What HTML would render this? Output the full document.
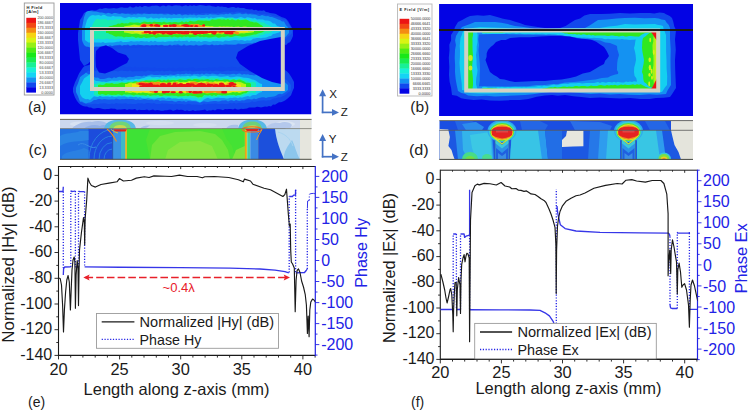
<!DOCTYPE html>
<html><head><meta charset="utf-8"><style>html,body{margin:0;padding:0;background:#fff;} svg{display:block;} text{font-family:"Liberation Sans",sans-serif;}</style></head>
<body>
<svg width="749" height="412" viewBox="0 0 749 412" font-family="Liberation Sans, sans-serif">
<rect width="749" height="412" fill="#ffffff"/>
<rect x="24.3" y="3" width="29.7" height="92" fill="#fdfdfd" stroke="#989898" stroke-width="0.9"/>
<rect x="26.3" y="17.8" width="9.7" height="5.3" fill="#ec1414"/>
<rect x="26.3" y="22.8" width="9.7" height="5.3" fill="#f24814"/>
<rect x="26.3" y="27.7" width="9.7" height="5.3" fill="#f48c14"/>
<rect x="26.3" y="32.7" width="9.7" height="5.3" fill="#f6d414"/>
<rect x="26.3" y="37.7" width="9.7" height="5.3" fill="#d8f414"/>
<rect x="26.3" y="42.6" width="9.7" height="5.3" fill="#96f014"/>
<rect x="26.3" y="47.6" width="9.7" height="5.3" fill="#50ec14"/>
<rect x="26.3" y="52.6" width="9.7" height="5.3" fill="#18e818"/>
<rect x="26.3" y="57.5" width="9.7" height="5.3" fill="#18ec50"/>
<rect x="26.3" y="62.5" width="9.7" height="5.3" fill="#18f096"/>
<rect x="26.3" y="67.5" width="9.7" height="5.3" fill="#18f0d8"/>
<rect x="26.3" y="72.4" width="9.7" height="5.3" fill="#14d4f4"/>
<rect x="26.3" y="77.4" width="9.7" height="5.3" fill="#1492f2"/>
<rect x="26.3" y="82.4" width="9.7" height="5.3" fill="#1048ee"/>
<rect x="26.3" y="87.3" width="9.7" height="5.3" fill="#0404e4"/>
<text x="26.5" y="9" font-size="4.1" fill="#202020" text-anchor="start" font-weight="bold" letter-spacing="0.35">H Field</text>
<text x="26.5" y="13.4" font-size="4.1" fill="#202020" text-anchor="start" font-weight="bold" letter-spacing="0.35">[A/m]</text>
<text x="53" y="19.2" font-size="3.9" fill="#4a4a4a" text-anchor="end" textLength="15.6" lengthAdjust="spacingAndGlyphs">200.0000</text>
<text x="53" y="24.2" font-size="3.9" fill="#4a4a4a" text-anchor="end" textLength="15.6" lengthAdjust="spacingAndGlyphs">186.6667</text>
<text x="53" y="29.1" font-size="3.9" fill="#4a4a4a" text-anchor="end" textLength="15.6" lengthAdjust="spacingAndGlyphs">173.3333</text>
<text x="53" y="34.1" font-size="3.9" fill="#4a4a4a" text-anchor="end" textLength="15.6" lengthAdjust="spacingAndGlyphs">160.0000</text>
<text x="53" y="39.1" font-size="3.9" fill="#4a4a4a" text-anchor="end" textLength="15.6" lengthAdjust="spacingAndGlyphs">146.6667</text>
<text x="53" y="44" font-size="3.9" fill="#4a4a4a" text-anchor="end" textLength="15.6" lengthAdjust="spacingAndGlyphs">133.3333</text>
<text x="53" y="49" font-size="3.9" fill="#4a4a4a" text-anchor="end" textLength="15.6" lengthAdjust="spacingAndGlyphs">120.0000</text>
<text x="53" y="54" font-size="3.9" fill="#4a4a4a" text-anchor="end" textLength="15.6" lengthAdjust="spacingAndGlyphs">106.6667</text>
<text x="53" y="58.9" font-size="3.9" fill="#4a4a4a" text-anchor="end" textLength="13.7" lengthAdjust="spacingAndGlyphs">93.3333</text>
<text x="53" y="63.9" font-size="3.9" fill="#4a4a4a" text-anchor="end" textLength="13.7" lengthAdjust="spacingAndGlyphs">80.0000</text>
<text x="53" y="68.9" font-size="3.9" fill="#4a4a4a" text-anchor="end" textLength="13.7" lengthAdjust="spacingAndGlyphs">66.6667</text>
<text x="53" y="73.8" font-size="3.9" fill="#4a4a4a" text-anchor="end" textLength="13.7" lengthAdjust="spacingAndGlyphs">53.3333</text>
<text x="53" y="78.8" font-size="3.9" fill="#4a4a4a" text-anchor="end" textLength="13.7" lengthAdjust="spacingAndGlyphs">40.0000</text>
<text x="53" y="83.8" font-size="3.9" fill="#4a4a4a" text-anchor="end" textLength="13.7" lengthAdjust="spacingAndGlyphs">26.6667</text>
<text x="53" y="88.7" font-size="3.9" fill="#4a4a4a" text-anchor="end" textLength="13.7" lengthAdjust="spacingAndGlyphs">13.3333</text>
<text x="53" y="93.7" font-size="3.9" fill="#4a4a4a" text-anchor="end" textLength="11.7" lengthAdjust="spacingAndGlyphs">0.0000</text>
<rect x="397.5" y="4" width="34.5" height="92" fill="#fdfdfd" stroke="#b8b8b8" stroke-width="0.9"/>
<rect x="399.6" y="18.8" width="9.699999999999989" height="5.3" fill="#ec1414"/>
<rect x="399.6" y="23.8" width="9.699999999999989" height="5.3" fill="#f24814"/>
<rect x="399.6" y="28.7" width="9.699999999999989" height="5.3" fill="#f48c14"/>
<rect x="399.6" y="33.7" width="9.699999999999989" height="5.3" fill="#f6d414"/>
<rect x="399.6" y="38.7" width="9.699999999999989" height="5.3" fill="#d8f414"/>
<rect x="399.6" y="43.7" width="9.699999999999989" height="5.3" fill="#96f014"/>
<rect x="399.6" y="48.6" width="9.699999999999989" height="5.3" fill="#50ec14"/>
<rect x="399.6" y="53.6" width="9.699999999999989" height="5.3" fill="#18e818"/>
<rect x="399.6" y="58.6" width="9.699999999999989" height="5.3" fill="#18ec50"/>
<rect x="399.6" y="63.6" width="9.699999999999989" height="5.3" fill="#18f096"/>
<rect x="399.6" y="68.5" width="9.699999999999989" height="5.3" fill="#18f0d8"/>
<rect x="399.6" y="73.5" width="9.699999999999989" height="5.3" fill="#14d4f4"/>
<rect x="399.6" y="78.5" width="9.699999999999989" height="5.3" fill="#1492f2"/>
<rect x="399.6" y="83.5" width="9.699999999999989" height="5.3" fill="#1048ee"/>
<rect x="399.6" y="88.4" width="9.699999999999989" height="5.3" fill="#0404e4"/>
<text x="399.5" y="10.6" font-size="3.8" fill="#202020" text-anchor="start" font-weight="bold" letter-spacing="0.55">E Field [V/m]</text>
<text x="430.4" y="20.2" font-size="3.5999999999999996" fill="#303030" text-anchor="end" textLength="19.6" lengthAdjust="spacingAndGlyphs">50000.0000</text>
<text x="430.4" y="25.2" font-size="3.5999999999999996" fill="#303030" text-anchor="end" textLength="19.6" lengthAdjust="spacingAndGlyphs">46666.6641</text>
<text x="430.4" y="30.1" font-size="3.5999999999999996" fill="#303030" text-anchor="end" textLength="19.6" lengthAdjust="spacingAndGlyphs">43333.3320</text>
<text x="430.4" y="35.1" font-size="3.5999999999999996" fill="#303030" text-anchor="end" textLength="19.6" lengthAdjust="spacingAndGlyphs">40000.0000</text>
<text x="430.4" y="40.1" font-size="3.5999999999999996" fill="#303030" text-anchor="end" textLength="19.6" lengthAdjust="spacingAndGlyphs">36666.6641</text>
<text x="430.4" y="45.1" font-size="3.5999999999999996" fill="#303030" text-anchor="end" textLength="19.6" lengthAdjust="spacingAndGlyphs">33333.3320</text>
<text x="430.4" y="50" font-size="3.5999999999999996" fill="#303030" text-anchor="end" textLength="19.6" lengthAdjust="spacingAndGlyphs">30000.0000</text>
<text x="430.4" y="55" font-size="3.5999999999999996" fill="#303030" text-anchor="end" textLength="19.6" lengthAdjust="spacingAndGlyphs">26666.6660</text>
<text x="430.4" y="60" font-size="3.5999999999999996" fill="#303030" text-anchor="end" textLength="19.6" lengthAdjust="spacingAndGlyphs">23333.3320</text>
<text x="430.4" y="65" font-size="3.5999999999999996" fill="#303030" text-anchor="end" textLength="19.6" lengthAdjust="spacingAndGlyphs">20000.0000</text>
<text x="430.4" y="69.9" font-size="3.5999999999999996" fill="#303030" text-anchor="end" textLength="19.6" lengthAdjust="spacingAndGlyphs">16666.6660</text>
<text x="430.4" y="74.9" font-size="3.5999999999999996" fill="#303030" text-anchor="end" textLength="19.6" lengthAdjust="spacingAndGlyphs">13333.3330</text>
<text x="430.4" y="79.9" font-size="3.5999999999999996" fill="#303030" text-anchor="end" textLength="19.6" lengthAdjust="spacingAndGlyphs">10000.0000</text>
<text x="430.4" y="84.9" font-size="3.5999999999999996" fill="#303030" text-anchor="end" textLength="17.6" lengthAdjust="spacingAndGlyphs">6666.6665</text>
<text x="430.4" y="89.8" font-size="3.5999999999999996" fill="#303030" text-anchor="end" textLength="17.6" lengthAdjust="spacingAndGlyphs">3333.3333</text>
<text x="430.4" y="94.8" font-size="3.5999999999999996" fill="#303030" text-anchor="end" textLength="11.8" lengthAdjust="spacingAndGlyphs">0.0000</text>
<clipPath id="ca"><rect x="60" y="3" width="251.5" height="111.5"/></clipPath>
<g clip-path="url(#ca)">
<rect x="60" y="3" width="251.5" height="111.5" fill="#0303e4"/>
<polygon points="92,29 283,29 283,89 92,89" fill="#124cec" />
<polygon points="78,33 80,19.9 82,17.1 84,13 86,11.9 88,11.8 90,10.4 92,10 94,10.5 96,10.5 98,9.6 100,8.5 102,8.9 104,8.3 106,7.9 108,8.4 110,8.4 112,8.2 114,8 116,8.6 118,8.3 120,7.4 122,7.2 124,7.8 126,7.8 128,7.8 130,6.3 132,7.5 134,7.5 136,6.2 138,7.1 140,6.1 142,7.2 144,6 146,5.9 148,6.8 150,6.4 152,5.8 154,5.7 156,5.6 158,5.7 160,6.7 162,5.7 164,5.5 166,6.4 168,5.3 170,5.5 172,6.2 174,5.5 176,5.2 178,5.4 180,5.6 182,6.4 184,5.8 186,5.2 188,6.2 190,5.3 192,5.9 194,5.2 196,6.1 198,5.4 200,4.9 202,5.3 204,5.4 206,6 208,5.5 210,5.5 212,6.3 214,6.5 216,7.1 218,5.9 220,6.7 222,6.4 224,7.1 226,6.9 228,7.9 230,7.6 232,7 234,7 236,8 238,7.2 240,8 242,8 244,7.9 246,9.1 248,9.3 250,9.6 252,9.2 254,10.2 256,9.8 258,10.7 260,10.6 262,10.8 264,10.3 266,12 268,12.3 270,13 272,13.3 274,13.4 276,14 278,15.3 280,16.3 282,17.2 284,17.7 286,18.7 288,21.1 290,24.6 292,27.9 293,30 293,36 292,38.5 290,42.2 288,43 286,45.2 284,44 282,44.9 280,44 278,43.6 276,44.1 274,44.4 272,44.5 270,44.1 268,43.8 266,44.5 264,44.2 262,44.3 260,44 258,44.4 256,44.8 254,45 252,44.8 250,45.2 248,45 246,45.3 244,44.9 242,45.6 240,45.3 238,45.2 236,45.7 234,45.7 232,44.5 230,45.4 228,45.5 226,45.9 224,44.9 222,45.3 220,44.9 218,45.2 216,45.2 214,45.3 212,46.2 210,45.4 208,46.1 206,45.6 204,46.4 202,46.2 200,46.6 198,45.5 196,46.2 194,46.8 192,46.8 190,45.8 188,46.7 186,45.9 184,46.9 182,46.4 180,46.4 178,46.7 176,46.7 174,46.1 172,46.5 170,46.4 168,47.5 166,47 164,46.8 162,47.5 160,47.4 158,46.7 156,47 154,47.4 152,47.6 150,47.3 148,46.9 146,46.9 144,47.2 142,48 140,47.4 138,47.4 136,48 134,47.7 132,47.9 130,47.6 128,48.6 126,48.1 124,48.3 122,47.9 120,48.3 118,49.1 116,49.6 114,48.8 112,49.4 110,49.5 108,49.9 106,49.5 104,49.4 102,49.3 100,49.3 98,52.6 96,55.5 94,56.6 92,60 90,61.7 88,63.7 86,64.7 84,66.1 82,63 80,60.1 78,40" fill="#1248ec" />
<polygon points="82,28 84,22.5 86,17.1 88,16.7 90,15 92,14.6 94,14.4 96,13.4 98,13.1 100,13.9 102,13.3 104,13.5 106,12.8 108,13.1 110,13.8 112,13.8 114,12.7 116,13.4 118,12.6 120,13.3 122,13.1 124,13.1 126,13.3 128,12.7 130,13.1 132,12.6 134,13.2 136,12.5 138,13.2 140,13.1 142,13.1 144,13.1 146,12.6 148,13.4 150,13.7 152,13 154,13.2 156,13.6 158,13.3 160,13.5 162,12.7 164,13.4 166,12.9 168,13.1 170,13.9 172,13.2 174,13.7 176,13.9 178,13.4 180,13.8 182,13.6 184,13.8 186,13.9 188,13.6 190,13.4 192,13.7 194,13 196,13.5 198,13.5 200,13.9 202,13.1 204,13.3 206,12.8 208,13.1 210,13.3 212,12.5 214,13 216,13.2 218,12.4 220,13 222,12.6 224,12.1 226,12.2 228,12.6 230,12.6 232,12 234,12.8 236,11.7 238,11.5 240,12 242,12.4 244,12.8 246,12.3 248,13.2 250,12.9 252,12.7 254,14 256,14.1 258,13.3 260,14.3 262,14.7 264,13.8 266,14.7 268,14.4 270,14.5 272,15.7 274,16.3 276,16.7 278,17 280,17.6 282,19 284,19.7 286,19.6 288,22.8 290,26.3 292,29 292,33 290,35.3 288,36.6 286,38.8 284,39.1 282,40.6 280,40.8 278,40.5 276,41 274,42.3 272,42.9 270,43.3 268,43 266,43.8 264,43.8 262,44 260,44.1 258,44.4 256,43.5 254,44.6 252,43.8 250,44 248,45.1 246,44.2 244,44.3 242,44.8 240,44.8 238,44.6 236,45.6 234,44.6 232,45.3 230,44.9 228,45.2 226,45.3 224,45.7 222,45.6 220,45.1 218,44.9 216,45.8 214,45.8 212,44.8 210,45.1 208,45.5 206,45.4 204,45.2 202,45.6 200,45.2 198,45.2 196,45.4 194,45.9 192,45.4 190,45.6 188,46 186,45.9 184,45.7 182,45.3 180,46 178,45.4 176,45.9 174,45.2 172,46.1 170,45.3 168,45 166,45.3 164,45.8 162,45.3 160,45.4 158,45.8 156,45 154,45.7 152,45.3 150,45.3 148,45.7 146,45.5 144,45.1 142,45.5 140,45 138,45.6 136,45.8 134,45.1 132,45.4 130,46 128,45.2 126,46.1 124,45.2 122,45.2 120,45.6 118,46.1 116,45.7 114,45.4 112,46.1 110,45.9 108,46 106,46.1 104,45.6 102,45.7 100,45.5 98,46.1 96,45.8 94,46.3 92,46 90,45.9 88,46.7 86,46.7 84,44.4 82,42" fill="#1458ee" />
<polygon points="82,28 84,17.3 86,12.1 88,10.9 90,11 92,11.3 94,11.6 96,11.5 98,12 100,12.4 102,12.5 104,12.9 106,13.7 108,12.7 110,13.3 112,14.1 114,12.9 116,13 118,13.8 120,13.9 122,13.3 124,13.7 126,14 128,13.8 130,14.3 132,14.7 134,13.9 136,14.4 138,13.6 140,14 142,14.6 144,13.5 146,14.1 148,13.9 150,14.1 152,13.8 154,13.9 156,13.7 158,14.2 160,13.8 162,14 164,14.5 166,14.5 168,14.1 170,14.4 172,14.9 174,13.9 176,15 178,14.3 180,14.1 182,15.4 184,14.8 186,14.6 188,15.3 190,14.5 192,14.9 194,14.6 196,15.5 198,14.7 200,14.7 202,14.9 204,15.1 206,14.5 208,15 210,14.1 212,14.4 214,14.4 216,14.5 218,14.9 220,14.6 222,14.3 224,14.5 226,13.8 228,14.3 230,13.2 232,14.4 234,14.3 236,13.7 238,13.4 240,13.3 242,14.3 244,14 246,13.6 248,14.6 250,14.1 252,14.5 254,14.4 256,14.8 258,15.7 260,16.1 262,15 264,15.8 266,16.3 268,15.9 270,17.1 272,17.1 274,17.7 276,18.5 278,19.6 280,20 282,21.4 284,21.6 286,25.3 288,27.2 289,29 289,33 288,34.1 286,36.5 284,37.9 282,39.1 280,39.1 278,40 276,40.9 274,40.8 272,41.1 270,41.3 268,41.9 266,42 264,42 262,42.5 260,42.5 258,43 256,43.2 254,42.5 252,43.5 250,43.2 248,43.3 246,43.6 244,43.9 242,44.1 240,43.7 238,43.5 236,44.5 234,44.7 232,44.6 230,44.5 228,44.4 226,44.2 224,44.5 222,45 220,44.4 218,45.2 216,44.8 214,45.3 212,44.3 210,45.3 208,45.1 206,44.5 204,44.5 202,45.2 200,45.6 198,45.5 196,44.5 194,45.6 192,45.2 190,45 188,45.2 186,45.4 184,44.3 182,45.7 180,45.2 178,44.3 176,44.8 174,44.7 172,45.6 170,44.6 168,45.6 166,45.6 164,45.6 162,44.7 160,44.9 158,45.2 156,44.7 154,45.3 152,45.1 150,45.4 148,44.9 146,45 144,45.5 142,45 140,45 138,44.6 136,45.2 134,44.8 132,45.2 130,45.7 128,44.4 126,45.1 124,45.1 122,45.7 120,44.7 118,44.9 116,45.2 114,45.4 112,46.2 110,45.1 108,46.3 106,45.1 104,45.7 102,46.2 100,46.4 98,46.8 96,46.4 94,47 92,47.1 90,47.4 88,46.8 86,46.5 84,44.9 82,40" fill="#1492f2" />
<polygon points="85,27 87,19.9 89,17 91,15.6 93,15 95,15.4 97,15.2 99,14.9 101,15.9 103,14.8 105,15.1 107,16.3 109,16.5 111,16.8 113,15.8 115,16.4 117,16.6 119,16.5 121,16.5 123,17.5 125,17.9 127,17.4 129,16.8 131,17.4 133,17.1 135,17.2 137,17.8 139,17.1 141,17.3 143,17.3 145,17.1 147,18.6 149,18.2 151,17.2 153,18.4 155,18.2 157,17.9 159,18.7 161,17.6 163,18 165,17.6 167,18.4 169,17.8 171,18.4 173,18.1 175,18.1 177,17.9 179,17.9 181,17.8 183,18.5 185,17.6 187,18.1 189,17.5 191,17.6 193,17.8 195,17.4 197,17.9 199,17.2 201,18 203,18 205,18.1 207,17.1 209,18.4 211,17.3 213,18.2 215,17.8 217,17.2 219,17.1 221,16.8 223,16.9 225,17.7 227,18.1 229,17.6 231,17.4 233,17.6 235,18.3 237,18.3 239,17.5 241,17.1 243,17.7 245,18.5 247,17.2 249,17.4 251,17.9 253,18.5 255,18 257,19.6 259,19.3 261,19.4 263,19.5 265,20.5 267,20.6 269,20.8 271,21.8 273,23.5 275,23.6 277,26 279,26.4 281,28 281,31 279,32.6 277,32.9 275,33.8 273,34 271,36.1 269,36.3 267,37.3 265,37.7 263,37.7 261,38.3 259,38 257,38 255,38.6 253,38.8 251,40.4 249,40.5 247,40.2 245,41 243,40.3 241,39.9 239,40.4 237,40.2 235,40.1 233,40.3 231,40.6 229,41.1 227,40.7 225,40.5 223,41.8 221,41.3 219,41.2 217,41.1 215,41.2 213,41 211,41.7 209,41.7 207,41.3 205,41 203,41.2 201,42 199,41 197,41.7 195,41.1 193,41.3 191,40.8 189,41.9 187,40.4 185,41 183,41.1 181,41.2 179,40.6 177,41.3 175,40.7 173,41.4 171,41.2 169,41.3 167,41.5 165,41.9 163,41.5 161,41.8 159,41.7 157,41.8 155,40.7 153,41.8 151,40.7 149,42 147,41.2 145,41.6 143,41.2 141,41 139,41.4 137,41.3 135,41.4 133,41.5 131,41 129,41.8 127,42 125,41.9 123,42.2 121,41.1 119,41.7 117,41.7 115,42.3 113,42.5 111,42.4 109,42.5 107,42.7 105,42.9 103,42.1 101,42.8 99,42.6 97,42.4 95,42.4 93,42.3 91,42 89,42.7 87,41.6 85,40" fill="#14d0f0" />
<polygon points="92,26 94,21.9 96,19.2 98,18.8 100,19.7 102,19.1 104,19.4 106,19.1 108,20.5 110,19.6 112,20.2 114,20 116,19.3 118,19.2 120,19.1 122,20.5 124,20.4 126,19.8 128,19.8 130,19.6 132,19 134,20.1 136,19.1 138,19.1 140,19.6 142,20.1 144,19.3 146,20 148,19.7 150,19.7 152,19.8 154,19.7 156,19.9 158,19.7 160,20.4 162,19.1 164,20.2 166,19.1 168,20.6 170,19.7 172,20.6 174,19.6 176,20.2 178,19.6 180,19.3 182,20.7 184,19.5 186,19.5 188,18.9 190,19.1 192,20.1 194,19 196,20 198,19.7 200,19.3 202,19.8 204,19.1 206,18.7 208,19.6 210,19.2 212,19.4 214,18.2 216,18.5 218,18.1 220,17.9 222,17.7 224,18.2 226,18 228,17.7 230,17.9 232,17.8 234,18.8 236,18.9 238,19 240,18.8 242,19.5 244,18.7 246,19.2 248,20.5 250,19.3 252,20.9 254,19.8 256,20.5 258,21.4 260,21.7 262,22.5 264,22.4 266,24.1 268,24.9 270,26 272,27 272,32 270,32.7 268,33.8 266,33.2 264,34.5 262,35 260,35.3 258,36.7 256,37.1 254,37.1 252,36.7 250,37.1 248,37.6 246,37.1 244,37.2 242,37.6 240,38.4 238,38.1 236,37.6 234,37.6 232,37.8 230,37.9 228,38.3 226,39 224,38.6 222,38.2 220,38.9 218,38 216,38.4 214,39.4 212,38.9 210,38.4 208,38.8 206,38.6 204,39.3 202,39.2 200,39 198,38.6 196,38.5 194,39 192,38.5 190,38.5 188,38.4 186,38.5 184,39.7 182,39.1 180,38.7 178,38.8 176,39 174,38.6 172,38.7 170,39.2 168,39 166,39.5 164,39.3 162,38.6 160,39.9 158,38.8 156,38.6 154,39.2 152,39.2 150,39.6 148,38.7 146,38.7 144,38.6 142,38.7 140,38.8 138,39.9 136,39.4 134,39.5 132,38.8 130,39.7 128,38.8 126,40 124,39.3 122,39.1 120,38.8 118,38.9 116,39.4 114,39.4 112,38.5 110,39.5 108,38.8 106,38.6 104,39.4 102,39.3 100,39.3 98,38.6 96,39.7 94,37.8 92,36" fill="#18ecb0" />
<polygon points="106,27 108,27 110,26 112,25.7 114,25.1 116,24.7 118,23.4 120,23.7 122,22.7 124,23.4 126,23.3 128,23.4 130,22.3 132,22.5 134,22.7 136,22.6 138,22.6 140,22.9 142,22.3 144,21.5 146,21.7 148,22.3 150,21.7 152,22.5 154,21.5 156,22 158,22.1 160,22 162,22.6 164,21.6 166,22.5 168,22.6 170,21.9 172,22.6 174,22 176,22 178,22.5 180,22.3 182,21.2 184,22.4 186,21.6 188,22.2 190,20.8 192,21.3 194,21.5 196,21.3 198,20.3 200,20.5 202,20.5 204,20.7 206,20.5 208,20.7 210,20.7 212,19.3 214,19.7 216,19.8 218,19.3 220,19.3 222,19.8 224,19.3 226,19.9 228,19 230,20.2 232,19.2 234,19.9 236,20.4 238,19.3 240,20.2 242,19.9 244,19.8 246,19.5 248,20.2 250,21.6 252,21.7 254,22.4 256,22.2 258,23 260,24.5 262,25.4 264,27.7 265,28 265,31 264,31.2 262,32.6 260,33.1 258,33.5 256,34.4 254,34.4 252,35 250,35.4 248,35.8 246,36.2 244,36.4 242,36.7 240,36.3 238,36.1 236,35.8 234,36.2 232,37 230,36.9 228,36.2 226,36.5 224,37 222,36.7 220,37.6 218,37.7 216,36.5 214,36.8 212,37.2 210,37.5 208,37.4 206,36.7 204,37.3 202,36.8 200,37.2 198,36.3 196,36.7 194,37.1 192,36.9 190,37.5 188,36.4 186,37 184,36.5 182,37.6 180,36.7 178,37.6 176,36.9 174,36.6 172,37.5 170,36.6 168,37 166,37 164,37 162,37.1 160,36.9 158,37.2 156,37.9 154,36.8 152,36.9 150,37.5 148,37.8 146,38 144,36.9 142,38 140,38 138,37.2 136,37.9 134,37 132,36.6 130,37.1 128,37.1 126,36.7 124,37.6 122,36.6 120,36.4 118,36.2 116,36.8 114,36.1 112,34.8 110,34.2 108,33.1 106,33" fill="#30e820" />
<polygon points="124,26.5 126,26 128,25.8 130,25.5 132,25 134,24.4 136,24.8 138,25.2 140,25.3 142,24.6 144,25.2 146,24.2 148,24.9 150,24.4 152,24.4 154,24.5 156,24.8 158,24.4 160,25.2 162,25 164,24.3 166,24.5 168,24.2 170,25 172,25.2 174,25.3 176,25.2 178,25 180,24.3 182,24.6 184,24.8 186,25.2 188,24.8 190,25.6 192,25.3 194,24.8 196,24.7 198,24.6 200,25.7 202,25.7 204,26 206,26.1 208,25.7 210,26.4 212,26.1 214,26.7 216,26.8 218,26.8 220,26.3 222,27.1 224,26.9 226,26.5 228,26.4 230,26.8 232,26.6 234,27.4 236,26.6 238,27.2 240,27.4 242,26.9 244,26.8 246,26.5 248,27.6 250,27 252,27 254,27 254,32 252,32.5 250,32.8 248,33 246,33.1 244,33.6 242,33.2 240,33.5 238,34.2 236,33.5 234,33.8 232,34.3 230,34.3 228,33.4 226,33.8 224,33.5 222,34.5 220,33.6 218,33.4 216,34.3 214,33.4 212,33.6 210,34.6 208,33.5 206,33.8 204,33.7 202,34.7 200,33.7 198,34.4 196,33.7 194,33.7 192,34.6 190,34.5 188,34.2 186,34.1 184,34.2 182,34.1 180,33.8 178,34.2 176,34.1 174,34.2 172,34.2 170,33.6 168,34.4 166,34.2 164,33.8 162,34.2 160,34.6 158,33.6 156,34.7 154,34.1 152,34.5 150,33.9 148,33.9 146,34 144,34.3 142,34.5 140,34.6 138,33.8 136,33.6 134,33.8 132,33.9 130,33.6 128,33 126,32.8 124,32.5" fill="#b8f214" />
<polygon points="134,26.5 136,26.4 138,26.6 140,26.3 142,26 144,25.2 146,25.8 148,25.6 150,25.9 152,25.5 154,25.2 156,26 158,25.8 160,26.1 162,25.6 164,25.7 166,25.2 168,25.6 170,25.2 172,25.9 174,25.1 176,25.2 178,25.5 180,25.5 182,26 184,25.7 186,25.6 188,25.4 190,25.3 192,25.7 194,25.2 196,26.1 198,25.8 200,26.2 202,25.9 204,26.4 206,26.6 208,27.2 210,26.6 212,27.4 214,27.1 216,26.9 218,27.5 220,26.9 222,26.8 224,26.6 226,27.3 228,27.3 230,27.3 232,27.4 234,27.3 236,27.2 238,26.6 240,27.1 242,27 244,26.7 246,27.2 248,27 248,32 246,32.2 244,32.2 242,32.4 240,32.5 238,32.4 236,32.8 234,33.2 232,32.5 230,32.5 228,33.4 226,33 224,32.7 222,32.7 220,32.7 218,33.2 216,33.3 214,33.3 212,32.7 210,33.7 208,33 206,33.3 204,33.2 202,33.5 200,33 198,33.6 196,33 194,33.4 192,33.2 190,33.3 188,33.5 186,33 184,33.6 182,32.9 180,33.4 178,33.6 176,33.4 174,33 172,33.6 170,33.5 168,33.6 166,33.6 164,32.9 162,33.5 160,32.8 158,33.2 156,32.8 154,33.4 152,33.6 150,33.6 148,32.9 146,32.9 144,32.9 142,32.4 140,32.8 138,32.2 136,32.5 134,32" fill="#f4e014" />
<ellipse cx="192" cy="25.3" rx="2.1" ry="1.2" fill="#f48c14"/>
<ellipse cx="196.4" cy="25.4" rx="3.3" ry="1.4" fill="#f48c14"/>
<ellipse cx="176.6" cy="25.9" rx="2.9" ry="1.3" fill="#f48c14"/>
<ellipse cx="199.8" cy="26" rx="2.8" ry="1" fill="#f48c14"/>
<ellipse cx="153.9" cy="25.2" rx="3.3" ry="1.6" fill="#f48c14"/>
<ellipse cx="166.7" cy="26.1" rx="2.1" ry="1.5" fill="#f48c14"/>
<ellipse cx="142.7" cy="26.2" rx="3" ry="1.5" fill="#f48c14"/>
<ellipse cx="196.1" cy="25.6" rx="2.1" ry="1.1" fill="#f48c14"/>
<ellipse cx="203.1" cy="25.9" rx="2" ry="1.5" fill="#f48c14"/>
<ellipse cx="144" cy="25" rx="3.4" ry="1.5" fill="#f48c14"/>
<ellipse cx="165.4" cy="26.1" rx="2.3" ry="1.1" fill="#f48c14"/>
<ellipse cx="197.4" cy="25.4" rx="2.1" ry="1.5" fill="#f48c14"/>
<ellipse cx="177.1" cy="26.1" rx="3.3" ry="1.4" fill="#f48c14"/>
<ellipse cx="147.2" cy="25.2" rx="3.3" ry="1.3" fill="#f48c14"/>
<ellipse cx="153.1" cy="26.1" rx="3.3" ry="1.1" fill="#f48c14"/>
<ellipse cx="181.8" cy="26.3" rx="2.2" ry="1.5" fill="#f48c14"/>
<ellipse cx="169.5" cy="26" rx="2.1" ry="1.3" fill="#f48c14"/>
<ellipse cx="154.8" cy="25.2" rx="3.2" ry="1" fill="#f48c14"/>
<ellipse cx="230.9" cy="31.9" rx="3.2" ry="1.3" fill="#f48c14"/>
<ellipse cx="235.9" cy="32.6" rx="2.6" ry="1" fill="#f48c14"/>
<ellipse cx="183.1" cy="33.3" rx="3.5" ry="1.2" fill="#f48c14"/>
<ellipse cx="219.9" cy="32" rx="2.9" ry="1.2" fill="#f48c14"/>
<ellipse cx="166.6" cy="32.4" rx="3.1" ry="1.4" fill="#f48c14"/>
<ellipse cx="174.6" cy="31.8" rx="2" ry="1.6" fill="#f48c14"/>
<ellipse cx="191.8" cy="32.5" rx="2.6" ry="1.1" fill="#f48c14"/>
<ellipse cx="164.7" cy="33.3" rx="2.6" ry="1.3" fill="#f48c14"/>
<ellipse cx="232.2" cy="32.7" rx="2.3" ry="1" fill="#f48c14"/>
<ellipse cx="158.3" cy="31.8" rx="2.3" ry="1.1" fill="#f48c14"/>
<ellipse cx="173.4" cy="32.4" rx="2.6" ry="1.2" fill="#f48c14"/>
<ellipse cx="191.9" cy="32" rx="3.4" ry="1.1" fill="#f48c14"/>
<ellipse cx="202.8" cy="32.3" rx="2.8" ry="1" fill="#f48c14"/>
<ellipse cx="237.2" cy="33.2" rx="2" ry="1.2" fill="#f48c14"/>
<ellipse cx="230.6" cy="33" rx="2.8" ry="1.5" fill="#f48c14"/>
<ellipse cx="153.1" cy="32.9" rx="2.3" ry="1.2" fill="#f48c14"/>
<ellipse cx="232.5" cy="32.2" rx="2.8" ry="1.4" fill="#f48c14"/>
<ellipse cx="184" cy="33.1" rx="3.4" ry="1.3" fill="#f48c14"/>
<ellipse cx="176.5" cy="33.1" rx="2.4" ry="1" fill="#f48c14"/>
<ellipse cx="226.4" cy="32" rx="2.1" ry="1.4" fill="#f48c14"/>
<ellipse cx="144.6" cy="32.9" rx="3.2" ry="1.1" fill="#f48c14"/>
<ellipse cx="221.1" cy="32.7" rx="2.3" ry="1.1" fill="#f48c14"/>
<ellipse cx="153.2" cy="32.5" rx="3.4" ry="1.3" fill="#f48c14"/>
<ellipse cx="186.1" cy="32.2" rx="2.9" ry="1.4" fill="#f48c14"/>
<ellipse cx="165.4" cy="31.9" rx="2.1" ry="1.4" fill="#f48c14"/>
<ellipse cx="198.1" cy="31.8" rx="3.3" ry="1.4" fill="#f48c14"/>
<ellipse cx="187.5" cy="26" rx="2.3" ry="1.2" fill="#ea1616"/>
<ellipse cx="165.9" cy="26.2" rx="1.9" ry="0.9" fill="#ea1616"/>
<ellipse cx="155.8" cy="25.5" rx="2" ry="1" fill="#ea1616"/>
<ellipse cx="144.2" cy="25.5" rx="2" ry="1.3" fill="#ea1616"/>
<ellipse cx="151.3" cy="25.3" rx="1.8" ry="1.2" fill="#ea1616"/>
<ellipse cx="165.5" cy="25.9" rx="2.7" ry="1.1" fill="#ea1616"/>
<ellipse cx="143.6" cy="25.9" rx="2.6" ry="1.1" fill="#ea1616"/>
<ellipse cx="186" cy="25.5" rx="2.9" ry="1.5" fill="#ea1616"/>
<ellipse cx="196.2" cy="26.2" rx="1.8" ry="1.2" fill="#ea1616"/>
<ellipse cx="191.6" cy="26" rx="2.1" ry="0.9" fill="#ea1616"/>
<ellipse cx="183.6" cy="25.3" rx="2.6" ry="0.8" fill="#ea1616"/>
<ellipse cx="170.5" cy="25.7" rx="1.7" ry="1.2" fill="#ea1616"/>
<ellipse cx="174" cy="25.6" rx="2.8" ry="1.5" fill="#ea1616"/>
<ellipse cx="203.7" cy="25.4" rx="1.5" ry="1.1" fill="#ea1616"/>
<ellipse cx="144.6" cy="25.9" rx="1.9" ry="0.9" fill="#ea1616"/>
<ellipse cx="157.6" cy="25.6" rx="2.6" ry="1.2" fill="#ea1616"/>
<ellipse cx="158.9" cy="25.9" rx="1.6" ry="1" fill="#ea1616"/>
<ellipse cx="188.2" cy="26" rx="1.7" ry="0.9" fill="#ea1616"/>
<ellipse cx="174.4" cy="25.9" rx="1.5" ry="1.1" fill="#ea1616"/>
<ellipse cx="156.9" cy="25.3" rx="1.8" ry="1" fill="#ea1616"/>
<polygon points="150,31 152,30.5 154,30.4 156,31.3 158,31 160,30.9 162,31.1 164,31.1 166,31 168,31.2 170,30.8 172,30.7 174,31.3 176,30.4 178,30.5 180,30.9 182,31.3 184,31.2 186,30.5 188,31 190,31.5 192,30.9 194,30.9 196,30.4 198,31.4 200,31 202,31.1 204,31.2 206,30.6 208,31.3 210,31.1 212,31 214,30.8 216,31 218,31.5 220,31.3 222,30.4 224,31 226,31.4 228,31.3 230,31.5 232,30.6 234,30.5 236,31.5 238,30.4 240,31 240,31 238,30.7 236,31.5 234,31.7 232,32.6 230,33.1 228,32.4 226,32.4 224,32.6 222,32.3 220,32.7 218,32.1 216,33.1 214,33.2 212,32.2 210,32.9 208,32.9 206,33 204,32.7 202,32.7 200,32.7 198,33.5 196,32.9 194,33.5 192,33.2 190,32.5 188,33.4 186,33 184,32.6 182,33.2 180,32.8 178,33 176,32.9 174,32.9 172,32.3 170,32.4 168,32.3 166,32.3 164,32.6 162,32.2 160,33 158,32.6 156,32.2 154,31.4 152,31.1 150,31" fill="#ea1616" />
<ellipse cx="231" cy="33" rx="2.6" ry="1.5" fill="#ea1616"/>
<ellipse cx="169.7" cy="32.9" rx="2.9" ry="1.5" fill="#ea1616"/>
<ellipse cx="199.4" cy="32.2" rx="2.1" ry="1.6" fill="#ea1616"/>
<ellipse cx="154.8" cy="32.4" rx="2.9" ry="1.2" fill="#ea1616"/>
<ellipse cx="164.8" cy="32.4" rx="2.9" ry="1.1" fill="#ea1616"/>
<ellipse cx="185.6" cy="32.9" rx="2.7" ry="1.2" fill="#ea1616"/>
<ellipse cx="152.7" cy="32.8" rx="1.6" ry="0.9" fill="#ea1616"/>
<ellipse cx="163.1" cy="33" rx="1.9" ry="1.4" fill="#ea1616"/>
<ellipse cx="160.5" cy="32.2" rx="1.5" ry="1.4" fill="#ea1616"/>
<ellipse cx="226.6" cy="32.3" rx="1.9" ry="0.8" fill="#ea1616"/>
<ellipse cx="206.3" cy="32.4" rx="1.7" ry="1.3" fill="#ea1616"/>
<ellipse cx="202" cy="32.6" rx="1.7" ry="1.3" fill="#ea1616"/>
<ellipse cx="197.8" cy="32.6" rx="1.7" ry="1.5" fill="#ea1616"/>
<ellipse cx="227" cy="33" rx="3" ry="1.3" fill="#ea1616"/>
<ellipse cx="177.8" cy="32.2" rx="2.4" ry="1.2" fill="#ea1616"/>
<ellipse cx="186.5" cy="33.4" rx="2.8" ry="0.9" fill="#ea1616"/>
<ellipse cx="229" cy="32" rx="2.5" ry="1.1" fill="#ea1616"/>
<ellipse cx="214.3" cy="33.3" rx="2.3" ry="1.4" fill="#ea1616"/>
<ellipse cx="150.2" cy="32.9" rx="1.7" ry="1.2" fill="#ea1616"/>
<ellipse cx="176.7" cy="32.1" rx="2.6" ry="0.9" fill="#ea1616"/>
<ellipse cx="169.4" cy="32.1" rx="2.5" ry="1" fill="#ea1616"/>
<ellipse cx="149.2" cy="32" rx="1.8" ry="1.2" fill="#ea1616"/>
<ellipse cx="146.2" cy="32" rx="2.5" ry="1.2" fill="#ea1616"/>
<ellipse cx="157.8" cy="32.4" rx="1.7" ry="1" fill="#ea1616"/>
<ellipse cx="181.9" cy="32.3" rx="1.8" ry="1" fill="#ea1616"/>
<ellipse cx="173.6" cy="32.8" rx="2.8" ry="1.3" fill="#ea1616"/>
<ellipse cx="187.6" cy="32" rx="1.8" ry="1.3" fill="#ea1616"/>
<ellipse cx="183.5" cy="33.2" rx="2.9" ry="1" fill="#ea1616"/>
<ellipse cx="179.6" cy="32.4" rx="2.5" ry="0.9" fill="#ea1616"/>
<ellipse cx="171.2" cy="33.2" rx="2.1" ry="1.6" fill="#ea1616"/>
<ellipse cx="182.6" cy="33.2" rx="2.2" ry="0.9" fill="#ea1616"/>
<ellipse cx="199.9" cy="32.3" rx="2.9" ry="1.4" fill="#ea1616"/>
<ellipse cx="195.3" cy="33.3" rx="2.3" ry="1.6" fill="#ea1616"/>
<ellipse cx="212.9" cy="32.3" rx="1.9" ry="1.5" fill="#ea1616"/>
<ellipse cx="154.5" cy="33.4" rx="1.6" ry="1.4" fill="#ea1616"/>
<ellipse cx="203.7" cy="32.6" rx="2.4" ry="1.3" fill="#ea1616"/>
<ellipse cx="179.2" cy="32.4" rx="1.6" ry="1.3" fill="#ea1616"/>
<ellipse cx="228.7" cy="32.5" rx="2.8" ry="1.1" fill="#ea1616"/>
<ellipse cx="169.2" cy="33.1" rx="2.9" ry="0.9" fill="#ea1616"/>
<ellipse cx="227.8" cy="32.4" rx="2.7" ry="1" fill="#ea1616"/>
<polygon points="73,88 75,82.2 77,78.2 79,73.6 81,70.4 83,67.5 85,65.8 87,65.6 89,64.9 91,63.7 93,65 95,65 97,64 99,64.9 101,65.7 103,64.8 105,65 107,65.6 109,65.7 111,65.6 113,66.7 115,66.6 117,67 119,66.8 121,66.7 123,66.1 125,67.2 127,67.4 129,66.8 131,67 133,67.8 135,66.6 137,67.7 139,67.4 141,67.6 143,67.3 145,67.8 147,67.4 149,67.7 151,67.8 153,67.7 155,67.4 157,68.4 159,68.3 161,68.6 163,67.9 165,68.6 167,68.5 169,67.8 171,68.5 173,67.4 175,68.4 177,68.5 179,67.7 181,67.9 183,67.4 185,68.6 187,68.3 189,67.7 191,68 193,67.3 195,68.5 197,68.5 199,67.9 201,68.5 203,68 205,68.3 207,68.1 209,67.1 211,67.9 213,67.8 215,67.5 217,68.1 219,67 221,66.8 223,66.9 225,67.6 227,67.4 229,67.3 231,66.8 233,67 235,67.2 237,67.4 239,67.4 241,66.3 243,66.3 245,66.4 247,66.4 249,66.4 251,66.5 253,67.1 255,66.5 257,67.1 259,66.5 261,66.6 263,66 265,66.2 267,65.5 269,66.7 271,66 273,66.3 275,66.7 277,68.2 279,68.6 281,69.1 283,69.5 285,69.9 287,71.4 289,73.6 291,76.4 293,79.9 294,82 294,88 293,90 291,95.3 289,97.3 287,98.9 285,100.6 283,101.5 281,102.3 279,102.3 277,103.6 275,104.8 273,104.4 271,106.4 269,105.9 267,106.7 265,106.6 263,107 261,107.6 259,107.1 257,106.7 255,107.6 253,107.4 251,107.6 249,107.5 247,108.6 245,108.8 243,109.1 241,108.8 239,109.4 237,109.6 235,108.6 233,109.6 231,108.9 229,109 227,109.2 225,109 223,110.2 221,109.6 219,109.2 217,109.3 215,110.6 213,109.7 211,110.6 209,110.3 207,110.9 205,109.6 203,110.1 201,110.2 199,110.6 197,110.6 195,110.9 193,110 191,110.7 189,111 187,110.3 185,111 183,110.1 181,109.8 179,110 177,109.6 175,110.2 173,110.7 171,109.7 169,109.8 167,110.2 165,110.3 163,110.8 161,110.8 159,110.3 157,109.9 155,110.5 153,109.5 151,110.1 149,110.6 147,109.5 145,110 143,110 141,110.1 139,109.7 137,110.4 135,109.1 133,109.4 131,109.4 129,109.3 127,110 125,109 123,109.3 121,109.6 119,109.6 117,109.7 115,108.7 113,108.7 111,108.4 109,108.9 107,108.9 105,109.3 103,109.1 101,108.4 99,107.9 97,108.1 95,108.4 93,108.5 91,107.4 89,107.4 87,106.6 85,106.6 83,105.9 81,105 79,103.4 77,101 75,97.6 73,92" fill="#1248ec" />
<polygon points="76,87 78,83 80,78.8 82,76.4 84,74.4 86,73 88,70.5 90,71.6 92,70.9 94,70.6 96,71.3 98,70.9 100,71 102,70.5 104,71 106,71.5 108,71 110,70.9 112,71.2 114,70.9 116,71.1 118,71.4 120,70.8 122,70.6 124,71.1 126,71 128,71.2 130,70.5 132,71.4 134,71.3 136,71.2 138,71.3 140,71.3 142,71 144,71.5 146,71.3 148,70.6 150,70.9 152,71.3 154,71.6 156,70.9 158,71 160,71.4 162,70.6 164,71.6 166,71 168,71 170,70.6 172,71.2 174,71.4 176,71.4 178,71 180,71.5 182,70.9 184,70.7 186,70.4 188,71.6 190,70.6 192,71.4 194,71.5 196,71 198,71.1 200,70.8 202,70.6 204,71 206,70.5 208,71.5 210,70.4 212,71.3 214,70.9 216,70.4 218,70.8 220,71.2 222,71.5 224,71.2 226,70.8 228,70.6 230,71 232,70.8 234,70.6 236,70.7 238,71.3 240,71.2 242,70.8 244,71.2 246,71.1 248,71.3 250,72.3 252,72.4 254,72.9 256,72.8 258,73 260,72.7 262,73.3 264,73.6 266,73.1 268,73.9 270,74.3 272,74.7 274,75.8 276,75.9 278,76.2 280,77.7 282,77.4 284,78.9 286,79.4 288,81.2 290,83.8 291,85 291,90 290,91.2 288,92.5 286,94.6 284,95.8 282,96.6 280,97.4 278,97.3 276,98.3 274,98.3 272,99.2 270,100.5 268,100.3 266,100.8 264,100.3 262,100.6 260,100.7 258,101.1 256,101.7 254,102.1 252,101.3 250,102.5 248,102.7 246,102.7 244,103.2 242,102.7 240,102.7 238,102.9 236,103.7 234,102.7 232,103.4 230,103 228,103.9 226,104.1 224,103.9 222,103.8 220,103.9 218,104 216,103.4 214,103.7 212,103.7 210,103.9 208,103.7 206,104.5 204,103.8 202,105 200,105 198,104.7 196,104.4 194,104.5 192,104.7 190,104 188,103.7 186,104.5 184,104.6 182,103.9 180,104.1 178,104.3 176,103.5 174,104.5 172,104.1 170,104.1 168,103.7 166,103.4 164,103.7 162,103.2 160,103.9 158,103.9 156,104.1 154,103 152,103.4 150,103.3 148,103.1 146,103.2 144,103.9 142,103.2 140,103.6 138,103.2 136,103.9 134,104 132,104.1 130,103.7 128,103.9 126,103.3 124,103.5 122,103.7 120,103.5 118,103.4 116,102.9 114,104.1 112,103.4 110,104.1 108,103.9 106,103.6 104,103.2 102,103.6 100,103.4 98,104.2 96,103.8 94,103.8 92,104.3 90,104.4 88,104.4 86,103.9 84,103.5 82,102.7 80,100.7 78,96.7 76,93" fill="#1458ee" />
<polygon points="76,88 78,83.6 80,77.3 82,75.6 84,74.2 86,72.5 88,74 90,74.8 92,76.3 94,76.9 96,77.8 98,77.6 100,79 102,79 104,78.9 106,78.5 108,77.8 110,77.7 112,78.5 114,77.3 116,77.9 118,77 120,76.8 122,77.4 124,77.2 126,77.8 128,76.9 130,76.7 132,76.9 134,76.8 136,75.8 138,76 140,75.9 142,76.4 144,75.5 146,76 148,75.3 150,74.8 152,74.5 154,75 156,75.1 158,75.1 160,74.7 162,75.3 164,75.2 166,74.7 168,75.3 170,74.6 172,74.8 174,74.9 176,74.6 178,73.8 180,74.6 182,73.9 184,74.2 186,73.6 188,74 190,73.8 192,74.7 194,73.8 196,74 198,73.8 200,74.6 202,73.4 204,74.5 206,73.6 208,73.8 210,74.3 212,73.6 214,73.7 216,74.2 218,74.5 220,73.4 222,74.1 224,74 226,74.4 228,74.2 230,74.5 232,74 234,73.8 236,74.4 238,73.8 240,73.5 242,74.7 244,74.1 246,74.4 248,74.2 250,75.1 252,75.1 254,75.6 256,74.9 258,75.6 260,75.6 262,75 264,75.4 266,75.8 268,75.4 270,76.5 272,76.8 274,76.8 276,78.4 278,79.3 280,79 282,80.3 284,81.6 286,83.2 288,85 288,90 286,91.8 284,92.9 282,94.2 280,93.7 278,94.2 276,95.7 274,96.5 272,96.8 270,97.1 268,97.3 266,98.1 264,97.3 262,97.3 260,97.7 258,98.2 256,99.2 254,98.4 252,99.5 250,99.3 248,99.1 246,99.4 244,100.5 242,100.3 240,100.9 238,100.8 236,100 234,101.2 232,100.3 230,100.5 228,101.6 226,100.3 224,100.4 222,100.5 220,101.2 218,101.5 216,100.9 214,100.9 212,101.2 210,101.6 208,102.1 206,101.8 204,101.2 202,101.8 200,102.5 198,102.2 196,101.4 194,101.2 192,101.2 190,101.3 188,101 186,102.1 184,101 182,101.5 180,101 178,101.1 176,101.7 174,101.4 172,100.7 170,101.1 168,101.1 166,100.8 164,100.6 162,100.4 160,100.9 158,99.7 156,99.8 154,100.6 152,99.4 150,99.8 148,99.7 146,99.3 144,99.1 142,99.6 140,100.1 138,99.3 136,100 134,99.2 132,99 130,99.1 128,99.1 126,98.7 124,99.2 122,99 120,99.6 118,99 116,98.6 114,99.5 112,99.2 110,99.4 108,99.6 106,99.2 104,99.1 102,99.4 100,99.1 98,99.1 96,100.1 94,99.9 92,101.6 90,102.6 88,102.7 86,103.6 84,102.8 82,101.5 80,101.7 78,96 76,92" fill="#1492f2" />
<polygon points="80,86 82,82.6 84,78.6 86,77 88,75.7 90,74 92,77.7 94,79.5 96,81 98,81.1 100,81.3 102,81.8 104,81.5 106,81.9 108,81.5 110,81.1 112,80.6 114,80.8 116,80.8 118,80.8 120,80 122,80.9 124,79.7 126,79.5 128,80.2 130,79.7 132,79.4 134,79.8 136,78.7 138,79.2 140,79 142,78.3 144,78 146,77.1 148,76.6 150,76.3 152,77.2 154,77.3 156,76.9 158,77.1 160,77.4 162,76.1 164,76.5 166,77.1 168,76 170,76.4 172,76.3 174,75.8 176,76.7 178,75.8 180,76.5 182,76.3 184,76.3 186,76.2 188,75.7 190,76.4 192,76.1 194,75.4 196,75.7 198,76.5 200,76.7 202,76.1 204,75.6 206,76 208,76.4 210,76 212,75.7 214,75.8 216,75.8 218,76.3 220,76.7 222,76.8 224,76.6 226,76.3 228,76 230,77.3 232,77.2 234,77 236,76.6 238,76.6 240,76.8 242,77.3 244,77.8 246,77.8 248,78 250,78.6 252,79.4 254,79.7 256,80.7 258,82.3 260,83.4 262,84 262,92 260,92.6 258,93.6 256,94.9 254,95.1 252,95.3 250,96.7 248,96 246,96.4 244,97 242,97.7 240,97.3 238,98.2 236,97.4 234,97.4 232,98 230,97.8 228,98.4 226,98.5 224,98 222,98.1 220,98 218,97.5 216,98.1 214,98.5 212,98.9 210,98.8 208,97.7 206,98.4 204,99.5 202,101.3 200,102.4 198,101.4 196,100.6 194,100.4 192,100.5 190,99.8 188,99.4 186,98.9 184,99.5 182,98.6 180,99.1 178,99.1 176,98.4 174,98.3 172,98.8 170,97.8 168,97.7 166,98.9 164,97.8 162,97.6 160,98 158,97.9 156,98.8 154,98.7 152,98.7 150,98.5 148,97.8 146,98.5 144,98.4 142,98.2 140,97.1 138,97.7 136,96.7 134,97.3 132,96.8 130,96.8 128,97.4 126,96.6 124,96.3 122,96.4 120,96.6 118,96.3 116,96.7 114,97.1 112,96.1 110,96.9 108,96.4 106,96.4 104,96.7 102,96.7 100,95.8 98,97 96,96.7 94,96.3 92,97.9 90,99.9 88,99.1 86,99.2 84,98.4 82,97.2 80,94" fill="#14d0f0" />
<polygon points="94,84 96,84 98,82.9 100,82.6 102,82.3 104,82.3 106,83 108,82.5 110,83.2 112,82.4 114,82.6 116,81.9 118,81.5 120,82.5 122,81.7 124,81.9 126,82.3 128,81.3 130,80.9 132,81.5 134,81.4 136,81.3 138,80.8 140,79.7 142,79.5 144,79.7 146,80.2 148,79.3 150,79.4 152,78.6 154,78.6 156,79.1 158,79.2 160,78.7 162,78.4 164,78.8 166,79.2 168,78.4 170,78.5 172,78.4 174,77.8 176,78.7 178,78.4 180,78.2 182,77.9 184,78 186,78.8 188,78.4 190,77.8 192,78.4 194,78.2 196,77.7 198,78.4 200,78.3 202,77.3 204,77.4 206,78.5 208,78.7 210,78.1 212,77.6 214,77.7 216,78.4 218,77.8 220,78.9 222,78.1 224,78.6 226,79 228,79 230,78.9 232,79 234,79.5 236,79.4 238,78.5 240,78.5 242,79.2 244,79.6 246,80.1 248,81.3 250,82.1 252,81.7 254,82.1 256,83 256,92 254,93.2 252,92.4 250,93.1 248,94.2 246,94.2 244,95.2 242,96 240,96.7 238,95.6 236,95.9 234,96.7 232,96.1 230,96.2 228,96 226,96.4 224,95.9 222,96 220,96 218,97.2 216,96.9 214,97.3 212,97.2 210,96.4 208,96.5 206,97 204,97.4 202,98.4 200,99.9 198,98.7 196,97.8 194,98.5 192,97.8 190,97.9 188,97.2 186,98.2 184,97.5 182,97.4 180,97.5 178,97.7 176,98 174,98.2 172,97.8 170,97.2 168,96.8 166,97 164,97.2 162,96.8 160,97.7 158,97 156,97 154,97.3 152,97.2 150,97 148,97.6 146,96.3 144,96.9 142,96.1 140,96.5 138,97 136,96 134,96.9 132,96.5 130,95.4 128,96.5 126,96.5 124,95.7 122,95.6 120,95.4 118,96.2 116,96.4 114,95.7 112,96.3 110,95.1 108,96.1 106,96 104,95.9 102,95.9 100,95.7 98,96 96,95.6 94,95" fill="#18ecb0" />
<polygon points="98,85 100,84.5 102,84.9 104,84.7 106,83.3 108,83.5 110,83.6 112,83.1 114,83.9 116,83.8 118,83.7 120,82.9 122,82.4 124,83.1 126,82.9 128,82.2 130,82.4 132,82.4 134,81.6 136,81.3 138,82.1 140,81.4 142,81.2 144,81.1 146,80.3 148,80.4 150,80.4 152,80.6 154,80.4 156,80.5 158,79.7 160,79.7 162,80.8 164,79.8 166,80.8 168,79.6 170,80.2 172,80 174,80 176,80.2 178,79.7 180,79.3 182,79.7 184,80.1 186,79.9 188,79 190,79.3 192,80 194,78.9 196,79 198,79.2 200,79.7 202,79.4 204,79.8 206,79.3 208,79 210,79.9 212,79.7 214,80.2 216,79.1 218,79.5 220,80.1 222,80.1 224,79.5 226,79.5 228,79.5 230,80.4 232,79.8 234,79.2 236,80.3 238,79.8 240,79.4 242,80.5 244,81.2 246,82.8 248,82.7 250,83 251,84 251,91 250,90.8 248,91.5 246,93.2 244,93.3 242,94.3 240,95 238,95 236,95.7 234,94.8 232,95.1 230,94.8 228,94.9 226,95.6 224,95.2 222,95.5 220,94.9 218,94.8 216,95.9 214,94.9 212,95.9 210,95 208,95.6 206,95.2 204,95 202,97.2 200,96.9 198,97.4 196,96.5 194,96 192,96.1 190,95.4 188,96.3 186,95.5 184,96 182,96.3 180,96.2 178,96.5 176,95.7 174,95.7 172,95.5 170,95.8 168,95.8 166,95.5 164,95.2 162,96 160,95.9 158,95.1 156,95.4 154,95.2 152,95.5 150,95.9 148,94.8 146,95.8 144,95.3 142,95.3 140,95.3 138,94.8 136,94.7 134,95.6 132,95.1 130,94.4 128,94.5 126,94.8 124,94.3 122,95.5 120,94.8 118,94.3 116,94.9 114,94.7 112,94.9 110,94.7 108,94.3 106,95.2 104,94.6 102,93.9 100,94.7 98,94" fill="#30e820" />
<polygon points="125,84 127,84 129,83 131,82.6 133,83.1 135,82.7 137,82.6 139,83 141,82.8 143,82.9 145,82.9 147,81.9 149,82.7 151,82.1 153,81.7 155,81.9 157,81.7 159,81.5 161,82.2 163,82.5 165,82.5 167,82.5 169,82.5 171,81.9 173,81.4 175,81.9 177,81.3 179,81.7 181,82.4 183,81.8 185,82.1 187,81.9 189,81.1 191,81.3 193,81.2 195,81.4 197,81.9 199,82 201,81.3 203,81.4 205,81 207,81.6 209,81.8 211,81.6 213,82 215,81.1 217,81.5 219,81.2 221,81.3 223,81.2 225,82 227,81.3 229,81.9 231,82.1 233,81.8 235,82.5 237,81.7 239,82.1 241,82.2 243,83.2 245,83.9 246,84 246,91 245,91.5 243,91.8 241,92.6 239,93.1 237,92.1 235,92.5 233,92.1 231,92.7 229,93.2 227,93.2 225,92.6 223,92.1 221,92.9 219,92.4 217,92.7 215,92.7 213,92.3 211,93 209,93.3 207,93.5 205,93 203,92.4 201,93 199,93.2 197,93.3 195,93.5 193,93.5 191,92.5 189,92.5 187,93.1 185,93.5 183,92.5 181,92.5 179,93.3 177,92.8 175,93.2 173,92.4 171,92.9 169,92.8 167,92.6 165,92.5 163,92.8 161,93.3 159,93 157,92.3 155,92.9 153,93.4 151,93.2 149,93.4 147,93 145,92.5 143,92.3 141,93.2 139,92.7 137,93.4 135,92.8 133,92.2 131,93 129,92.7 127,92.2 125,92.5" fill="#b8f214" />
<polygon points="132,84 134,83.9 136,84 138,82.8 140,82.8 142,83.3 144,83.4 146,82.5 148,83 150,83.3 152,83.2 154,83.4 156,83.4 158,82.7 160,82.7 162,83.1 164,82.5 166,82.7 168,83.3 170,82.9 172,83.1 174,83.3 176,83.3 178,83.1 180,82.9 182,82.6 184,83.1 186,82.7 188,82.5 190,82.8 192,82.4 194,82.7 196,82.6 198,82.6 200,82.5 202,82.9 204,82.7 206,82.8 208,82.4 210,82.7 212,82.9 214,82.2 216,82.5 218,82.3 220,82.6 222,82.1 224,83 226,82.7 228,82.3 230,82.4 232,83.3 234,83.8 236,84 238,83.6 240,84.7 241,84.5 241,91.5 240,91.2 238,91.7 236,91.7 234,91.8 232,92.1 230,92.3 228,92.7 226,92.1 224,92.6 222,92.8 220,92.4 218,92.5 216,92.5 214,92.7 212,91.9 210,92.8 208,92.7 206,92.8 204,92.4 202,92.2 200,92.5 198,92 196,92 194,92 192,92.7 190,92.4 188,92.3 186,92.7 184,92.3 182,92.3 180,92.3 178,92.2 176,91.9 174,92.1 172,92.2 170,92.1 168,92.7 166,92.6 164,92.3 162,92.4 160,92.6 158,92.5 156,92.5 154,91.9 152,92.6 150,92.7 148,92 146,92.8 144,92.4 142,92.1 140,92.3 138,92.6 136,91.9 134,92.3 132,92" fill="#f4e014" />
<ellipse cx="230" cy="83.9" rx="2.8" ry="1.3" fill="#f48c14"/>
<ellipse cx="138.9" cy="83.6" rx="3" ry="1.4" fill="#f48c14"/>
<ellipse cx="202.8" cy="85.7" rx="2.9" ry="1.3" fill="#f48c14"/>
<ellipse cx="147.2" cy="84.1" rx="2.6" ry="1.9" fill="#f48c14"/>
<ellipse cx="207.7" cy="84.7" rx="2.3" ry="1.5" fill="#f48c14"/>
<ellipse cx="227.8" cy="86.2" rx="2.5" ry="1.5" fill="#f48c14"/>
<ellipse cx="170.8" cy="85.6" rx="3.3" ry="1.4" fill="#f48c14"/>
<ellipse cx="192.6" cy="83" rx="2.9" ry="1.3" fill="#f48c14"/>
<ellipse cx="193.5" cy="84" rx="3.2" ry="1.5" fill="#f48c14"/>
<ellipse cx="209.7" cy="85.2" rx="2.5" ry="1.8" fill="#f48c14"/>
<ellipse cx="176.3" cy="83.5" rx="2" ry="1.6" fill="#f48c14"/>
<ellipse cx="163.4" cy="84.2" rx="3.3" ry="1.8" fill="#f48c14"/>
<ellipse cx="229.6" cy="84.6" rx="3.3" ry="1.5" fill="#f48c14"/>
<ellipse cx="203.4" cy="84.9" rx="3.2" ry="1.9" fill="#f48c14"/>
<ellipse cx="161.8" cy="85.5" rx="3.5" ry="1.6" fill="#f48c14"/>
<ellipse cx="154.7" cy="86" rx="3" ry="1.7" fill="#f48c14"/>
<ellipse cx="151.4" cy="83.4" rx="2.1" ry="1.6" fill="#f48c14"/>
<ellipse cx="225.2" cy="85.9" rx="2.5" ry="1.5" fill="#f48c14"/>
<ellipse cx="142.6" cy="83.1" rx="3.4" ry="1.7" fill="#f48c14"/>
<ellipse cx="157.6" cy="83.7" rx="3" ry="1.9" fill="#f48c14"/>
<ellipse cx="200.9" cy="85" rx="3" ry="1.9" fill="#f48c14"/>
<ellipse cx="207.5" cy="84" rx="2.1" ry="2" fill="#f48c14"/>
<ellipse cx="145.5" cy="85.1" rx="3" ry="1.9" fill="#f48c14"/>
<ellipse cx="214.9" cy="84.5" rx="3.4" ry="1.3" fill="#f48c14"/>
<ellipse cx="206.5" cy="86.8" rx="3.4" ry="1.8" fill="#f48c14"/>
<ellipse cx="183.6" cy="85.7" rx="3.1" ry="1.8" fill="#f48c14"/>
<ellipse cx="223.4" cy="85.6" rx="2.3" ry="1.6" fill="#f48c14"/>
<ellipse cx="194.9" cy="83.2" rx="3.5" ry="1.5" fill="#f48c14"/>
<ellipse cx="212.3" cy="83.9" rx="3.1" ry="1.3" fill="#f48c14"/>
<ellipse cx="153.4" cy="83.9" rx="2.6" ry="1.4" fill="#f48c14"/>
<ellipse cx="149.7" cy="86.6" rx="2.8" ry="1.5" fill="#f48c14"/>
<ellipse cx="152.4" cy="83.6" rx="2.4" ry="1.8" fill="#f48c14"/>
<ellipse cx="203.1" cy="86.2" rx="2.9" ry="1.6" fill="#f48c14"/>
<ellipse cx="163.3" cy="85.6" rx="2.6" ry="1.8" fill="#f48c14"/>
<ellipse cx="194.1" cy="92.3" rx="2.4" ry="1.2" fill="#f48c14"/>
<ellipse cx="218.8" cy="92.5" rx="2.9" ry="1" fill="#f48c14"/>
<ellipse cx="213.2" cy="91.4" rx="2.8" ry="0.9" fill="#f48c14"/>
<ellipse cx="210.6" cy="92" rx="3.2" ry="0.9" fill="#f48c14"/>
<ellipse cx="205.9" cy="92.3" rx="2.2" ry="0.9" fill="#f48c14"/>
<ellipse cx="152.3" cy="91.6" rx="3.1" ry="0.8" fill="#f48c14"/>
<ellipse cx="222.6" cy="91.8" rx="2.4" ry="0.9" fill="#f48c14"/>
<ellipse cx="154" cy="91.9" rx="2.1" ry="1.1" fill="#f48c14"/>
<ellipse cx="172.8" cy="91.5" rx="2.7" ry="1.1" fill="#f48c14"/>
<ellipse cx="215.5" cy="91.4" rx="2.8" ry="0.9" fill="#f48c14"/>
<ellipse cx="220.8" cy="91.5" rx="2.7" ry="1.1" fill="#f48c14"/>
<ellipse cx="207.1" cy="91.7" rx="3.3" ry="1" fill="#f48c14"/>
<ellipse cx="220.9" cy="91.7" rx="2.5" ry="1.1" fill="#f48c14"/>
<ellipse cx="188.7" cy="91.8" rx="3" ry="1.2" fill="#f48c14"/>
<polygon points="140,87 142,86.9 144,86.9 146,85.8 148,85.5 150,84.9 152,84.8 154,85.7 156,84.8 158,84.6 160,85.6 162,84.8 164,84.8 166,84.4 168,85.7 170,85.5 172,85 174,84.5 176,84.6 178,84.2 180,84.4 182,84.3 184,85.4 186,84.8 188,85.4 190,84.6 192,85.3 194,84.5 196,85.1 198,84.7 200,84.8 202,84.4 204,84.1 206,85.3 208,84.6 210,84.7 212,84.1 214,85 216,84.5 218,84.9 220,84.7 222,85.1 224,85.5 226,85.2 228,85 230,84.5 232,85.4 234,85.7 236,86.1 238,87 238,87 236,86.6 234,87.3 232,86.5 230,87.5 228,87.4 226,86.5 224,87 222,86.4 220,87.5 218,86.9 216,87.4 214,87.4 212,86.5 210,87.3 208,87.1 206,86.7 204,86.5 202,87.6 200,86.8 198,87.3 196,86.9 194,87.6 192,86.4 190,87.7 188,87.4 186,87.1 184,86.4 182,86.9 180,86.5 178,87 176,87.2 174,87.5 172,87 170,87.2 168,86.7 166,86.6 164,87.6 162,87.3 160,87.7 158,87.5 156,86.9 154,87.2 152,87.6 150,87.4 148,87.3 146,87.2 144,87.5 142,87.3 140,87" fill="#ea1616" />
<ellipse cx="191.5" cy="84.5" rx="3" ry="1.2" fill="#ea1616"/>
<ellipse cx="188" cy="84.5" rx="2.4" ry="1.8" fill="#ea1616"/>
<ellipse cx="149.8" cy="84.8" rx="2.1" ry="1.3" fill="#ea1616"/>
<ellipse cx="233.9" cy="84.5" rx="2.7" ry="1.3" fill="#ea1616"/>
<ellipse cx="208.7" cy="84.8" rx="2" ry="1.3" fill="#ea1616"/>
<ellipse cx="178.4" cy="85.9" rx="2.6" ry="1.2" fill="#ea1616"/>
<ellipse cx="203.3" cy="84.4" rx="2.5" ry="1.2" fill="#ea1616"/>
<ellipse cx="178.6" cy="85.9" rx="2.5" ry="1.6" fill="#ea1616"/>
<ellipse cx="211.1" cy="85.3" rx="2.7" ry="1.3" fill="#ea1616"/>
<ellipse cx="198.1" cy="85.8" rx="1.9" ry="1.8" fill="#ea1616"/>
<ellipse cx="174.5" cy="83.9" rx="2" ry="1.3" fill="#ea1616"/>
<ellipse cx="146.5" cy="84.7" rx="2.4" ry="1.5" fill="#ea1616"/>
<ellipse cx="183.9" cy="86.3" rx="2.7" ry="1.3" fill="#ea1616"/>
<ellipse cx="222.2" cy="85.6" rx="3.2" ry="1.6" fill="#ea1616"/>
<ellipse cx="230.8" cy="84.1" rx="2.2" ry="1.8" fill="#ea1616"/>
<ellipse cx="142.1" cy="86.3" rx="3.1" ry="1.1" fill="#ea1616"/>
<ellipse cx="154.2" cy="86.2" rx="3.1" ry="1.7" fill="#ea1616"/>
<ellipse cx="208.1" cy="85.8" rx="2.2" ry="1" fill="#ea1616"/>
<ellipse cx="199" cy="86.1" rx="3.1" ry="1.4" fill="#ea1616"/>
<ellipse cx="140.8" cy="84" rx="2.4" ry="1.2" fill="#ea1616"/>
<ellipse cx="142.6" cy="84.1" rx="2.5" ry="1.1" fill="#ea1616"/>
<ellipse cx="150.6" cy="84" rx="1.8" ry="1.6" fill="#ea1616"/>
<ellipse cx="221.4" cy="84.1" rx="2.7" ry="1.7" fill="#ea1616"/>
<ellipse cx="162.9" cy="84.5" rx="3" ry="1.6" fill="#ea1616"/>
<ellipse cx="198.4" cy="85.9" rx="2.6" ry="1.3" fill="#ea1616"/>
<ellipse cx="204.4" cy="85.9" rx="1.9" ry="1.3" fill="#ea1616"/>
<ellipse cx="167.7" cy="86.2" rx="2.2" ry="1.5" fill="#ea1616"/>
<ellipse cx="180.9" cy="84.6" rx="2.5" ry="1.7" fill="#ea1616"/>
<ellipse cx="201.9" cy="84.7" rx="2" ry="1.3" fill="#ea1616"/>
<ellipse cx="184.3" cy="85.4" rx="3.2" ry="1.3" fill="#ea1616"/>
<ellipse cx="228.4" cy="86.2" rx="2.4" ry="1.2" fill="#ea1616"/>
<ellipse cx="162" cy="86.3" rx="2" ry="1.5" fill="#ea1616"/>
<ellipse cx="201.3" cy="84" rx="1.8" ry="1.5" fill="#ea1616"/>
<ellipse cx="145" cy="85.1" rx="3.2" ry="1.4" fill="#ea1616"/>
<ellipse cx="169.3" cy="83.8" rx="2.2" ry="1.3" fill="#ea1616"/>
<ellipse cx="151" cy="85.6" rx="2.6" ry="1.6" fill="#ea1616"/>
<ellipse cx="150.1" cy="84.3" rx="3.1" ry="1" fill="#ea1616"/>
<ellipse cx="174.8" cy="86" rx="2.1" ry="1.2" fill="#ea1616"/>
<ellipse cx="199.9" cy="84.3" rx="2.3" ry="1.3" fill="#ea1616"/>
<ellipse cx="168.1" cy="85.5" rx="2.8" ry="1.6" fill="#ea1616"/>
<ellipse cx="232.2" cy="83.7" rx="2.2" ry="1.8" fill="#ea1616"/>
<ellipse cx="215" cy="85.8" rx="2.1" ry="1.1" fill="#ea1616"/>
<ellipse cx="165.9" cy="86.2" rx="2.9" ry="1.3" fill="#ea1616"/>
<ellipse cx="201.9" cy="85.7" rx="2.2" ry="1.1" fill="#ea1616"/>
<ellipse cx="216.2" cy="85.6" rx="2.9" ry="1.6" fill="#ea1616"/>
<ellipse cx="174.4" cy="85.5" rx="2.3" ry="1.7" fill="#ea1616"/>
<ellipse cx="190.4" cy="91.8" rx="1.5" ry="1.3" fill="#ea1616"/>
<ellipse cx="165.8" cy="91.8" rx="2.1" ry="1.3" fill="#ea1616"/>
<ellipse cx="224.2" cy="92" rx="3" ry="1.6" fill="#ea1616"/>
<ellipse cx="168.2" cy="91.6" rx="1.7" ry="1.5" fill="#ea1616"/>
<ellipse cx="195" cy="92.4" rx="3" ry="1.3" fill="#ea1616"/>
<ellipse cx="190.1" cy="91.6" rx="1.5" ry="1.4" fill="#ea1616"/>
<ellipse cx="200.4" cy="92.3" rx="2.3" ry="1.3" fill="#ea1616"/>
<ellipse cx="197.9" cy="92.4" rx="1.7" ry="1.2" fill="#ea1616"/>
<ellipse cx="173.2" cy="92.3" rx="2.8" ry="1" fill="#ea1616"/>
<ellipse cx="156" cy="91.7" rx="2" ry="1.4" fill="#ea1616"/>
<ellipse cx="180.7" cy="92.2" rx="2" ry="1.2" fill="#ea1616"/>
<ellipse cx="164" cy="92.1" rx="2.3" ry="1.5" fill="#ea1616"/>
<polygon points="96,51 100,47 106,45.5 112,48 118,52.5 126,55 129,59 127,63 120,66.5 113,70.5 105,73.5 99,72.5 96,67 95.5,58" fill="#0303e4" />
<polygon points="281,37 270,39 260,41 248,46 238,52 236,58 240,64 250,71 262,78 272,82 281,84" fill="#0303e4" />
<rect x="92" y="29" width="190.8" height="60" fill="none" stroke="#d2d2c2" stroke-width="4"/>
<line x1="60" y1="29" x2="311.5" y2="29" stroke="#1a1a1a" stroke-width="1.8" />
</g>
<clipPath id="cb"><rect x="439.1" y="3.9" width="253.9" height="112.1"/></clipPath>
<g clip-path="url(#cb)">
<rect x="439.1" y="3.9" width="253.9" height="112.1" fill="#0303e4"/>
<polygon points="449.5,50 449.3,44.7 451.1,40.2 451,35 453.9,30.6 455,26.9 458,22 462.2,19.9 466.6,17.5 470,16 477.3,15.2 483.4,15.8 490,15 497.2,17.1 503.1,18.7 510,20 514.5,21.4 520.5,23.3 525,25 531.3,25.9 537.7,27.1 545,28 549.4,28.2 554.5,28.5 560,28 565.7,26 569.8,23.3 575,20 580.1,18.4 584.4,15.4 590,14 600.4,14 609.5,13.7 620,13 630,13.6 640.6,12.9 650,13 654.2,13.6 659.6,12.5 664,13 666,14.2 669.8,16 672,18 673.3,21.7 674.3,26.4 676,30 675,39.5 675.8,49.7 675,60 675.2,69.6 675.6,78.7 676,88 674.2,90.7 672,94.2 670,97 663.9,97.8 656,98.1 650,99 640.1,98.9 630.1,98 620,98.5 609.5,97.9 600.1,97.5 590,98 581.4,97.1 573.3,96.3 565,95 557.8,95.8 552.3,95 545,95.5 536.8,96.8 528.4,99.1 520,100 510.5,100.1 499.6,100.8 490,100.5 481.5,99.4 473.7,100.1 465,99 461.2,98.2 456.7,95.8 452,95 451.1,88.1 449.6,81.8 449,75 449.3,67 448.8,57.7" fill="#1248ec" />
<polygon points="455,50 455.9,45.1 455.1,40.6 456,36 458.1,32.5 459.6,30.1 462,27 466,25.6 470.7,23.8 475,22 481.6,22 488.5,22 495,22 501.3,22.8 507.8,24.1 515,26 521.8,26.8 528.7,27.7 535,29 551.3,28.6 568.1,28.6 585,28 589.6,25.6 594.2,22.6 598,20 606.8,19.6 616.5,18.5 625,18 634.5,17.7 644.5,18.2 655,18 658.6,18.5 661.6,19.4 665,20 666.5,22.6 668.8,25 670,28 670,38.3 670.7,49.3 670.5,60 670.6,67.9 670.9,76.2 671,85 669.2,87.8 667.5,90.6 666,94 657,94.8 649.1,94.3 640,95 629.7,94.7 619.5,94.1 610,94.5 599.8,93.6 590.5,93.9 580,93 569.7,92.1 559.9,92.5 550,92 541.4,93 533,94.3 525,95 514.5,95.5 505.4,96 495,96.5 486.3,95.8 476.6,96.3 468,95.5 464.9,93.8 461.4,92.9 458,91 456.7,84.9 455.6,78.8 455,72 455.1,65.2 454.7,57.9" fill="#1492f2" />
<polygon points="460,50 459.7,45.8 460.1,42.1 460.5,38 461.7,35.3 462.5,32.8 464,30 469.3,28.6 474.3,27.7 480,27 493.1,27.6 506.5,28 520,29 547.1,28.9 572.9,28.3 600,28 608.7,26.6 616.6,25.7 625,24 634.5,24.5 645,24.2 655,24 657.3,24.8 660.7,25.3 663,26 663.6,28.7 664.9,31.9 666,35 666.1,43.3 666.1,51.3 666.5,60 666.6,68.3 667.2,76.3 667,85 665.1,87.3 663.6,89.6 662,92 647.7,91.6 634.1,91.8 620,92 600.1,91.8 580,91.4 560,91.5 540.2,91.9 519.7,92.5 500,93 490,93.4 479.8,93.4 470,93 467.2,92.2 464.9,90.6 462,90 461.7,83.5 460.8,76.6 460,70 459.5,63 459.9,57.1" fill="#14d0f0" />
<rect x="466" y="30.5" width="192" height="60" fill="#1492f2"/>
<polygon points="466,31 468,30.7 470,30.7 472,30.7 474,31.4 476,31.5 478,31 480,31.1 482,31.5 484,31.5 486,30.5 488,31 490,30.7 492,30.9 494,31.4 496,30.7 498,30.9 500,31 502,31.5 504,31.3 506,31.1 508,31.5 510,30.5 512,30.9 514,31.5 516,31.4 518,30.7 520,31 522,31.3 524,31.5 526,31.3 528,31.4 530,31 532,31.3 534,31.3 536,30.5 538,30.6 540,31.1 542,31.4 544,31.2 546,30.7 548,30.6 550,31 552,31.5 554,31.4 556,31 558,31.1 560,31.3 562,31 564,30.5 566,31.2 568,31.1 570,31.5 572,31.2 574,31.2 576,30.5 578,30.8 580,31.5 582,30.9 584,30.9 586,31.1 588,31.2 590,30.9 592,30.8 594,30.5 596,31.4 598,30.9 600,31.3 602,30.5 604,31.4 606,30.5 608,30.6 610,31 612,30.6 614,30.8 616,31.4 618,30.5 620,30.9 622,31.3 624,31.1 626,31.4 628,31.1 630,30.7 632,31.1 634,30.7 636,30.9 638,31.4 640,31 642,31.5 644,31 646,31.4 648,31.1 650,31.5 652,30.9 654,31.4 656,31 656,42 654,41.7 652,41.8 650,41.6 648,41 646,40.9 644,40.6 642,39.9 640,39.6 638,40.3 636,39.6 634,39.8 632,39.8 630,40 628,39.8 626,39.6 624,39.5 622,38.9 620,39.5 618,39.3 616,39.2 614,39.3 612,39.3 610,39.2 608,38.8 606,39.2 604,38.9 602,38.3 600,38.3 598,37.9 596,38 594,37.8 592,38.1 590,38.1 588,37.8 586,37.8 584,37.4 582,37.8 580,37.6 578,37.5 576,37.3 574,36.9 572,36.8 570,36.2 568,36.2 566,36.1 564,35.8 562,35.9 560,34.8 558,34.9 556,34.4 554,34.3 552,34.3 550,34.1 548,34 546,34.5 544,34 542,33.7 540,34 538,34 536,33.8 534,34.2 532,34.3 530,33.9 528,34 526,34.3 524,34.2 522,34 520,33.4 518,33.7 516,33.9 514,33.4 512,33.5 510,33.8 508,33.8 506,33.5 504,34.2 502,34.2 500,34.3 498,34.2 496,34.2 494,34.2 492,34.2 490,34 488,34.2 486,33.7 484,34.3 482,33.9 480,33.8 478,34.1 476,34.2 474,33.9 472,34 470,34.3 468,32.5 466,31" fill="#14d0f0" />
<polygon points="466,90 468,89 470,87.2 472,87.4 474,87.4 476,87.5 478,86.7 480,87.2 482,86.9 484,86.6 486,86.8 488,87.4 490,87.4 492,87.5 494,87.2 496,87.5 498,86.8 500,87.2 502,86.7 504,87.3 506,87.3 508,86.7 510,87.3 512,87.1 514,86.8 516,86.8 518,87 520,87.1 522,87.3 524,86.7 526,87.3 528,86.8 530,87 532,86.8 534,86.8 536,86.5 538,85.9 540,85.9 542,86.5 544,85.6 546,85.9 548,85.9 550,85.5 552,85 554,84.6 556,85.2 558,84.9 560,84.3 562,84.1 564,83.7 566,83.7 568,84.1 570,83.2 572,83.3 574,83.2 576,83.2 578,83 580,83 582,83.5 584,83.3 586,83 588,83 590,83 592,82.9 594,83.1 596,82.6 598,82.1 600,82.9 602,82 604,82.2 606,82.7 608,82 610,82.1 612,82.4 614,81.7 616,82.4 618,81.8 620,82.2 622,82.4 624,82.4 626,81.4 628,81.9 630,81.5 632,82 634,81.3 636,81.5 638,82 640,81.1 642,81.2 644,81.4 646,80.9 648,80.7 650,81 652,80.5 654,80.7 656,80 656,90 654,89.8 652,89.6 650,90.3 648,90.4 646,90.4 644,89.6 642,90.1 640,89.9 638,89.8 636,89.7 634,90.2 632,89.5 630,90.3 628,89.8 626,90.1 624,89.6 622,90.4 620,90 618,90 616,90.3 614,90 612,90.3 610,89.6 608,89.6 606,89.8 604,90 602,90.3 600,90.1 598,90.2 596,90.5 594,89.6 592,90 590,89.8 588,90.3 586,90.1 584,90.2 582,89.8 580,89.7 578,90.2 576,89.6 574,89.7 572,90.4 570,90 568,90.3 566,90.3 564,90.3 562,90.3 560,89.7 558,90.5 556,89.7 554,90 552,90 550,90.2 548,90.1 546,89.7 544,89.5 542,89.9 540,90.2 538,90.2 536,90.2 534,90.4 532,90.3 530,89.7 528,90.5 526,90.3 524,90.5 522,90.3 520,90 518,90.1 516,90.1 514,89.7 512,89.7 510,90 508,89.5 506,89.9 504,90.3 502,89.7 500,89.7 498,90 496,90 494,90.2 492,90.4 490,90.4 488,89.9 486,89.8 484,89.7 482,89.5 480,89.5 478,89.8 476,89.9 474,89.7 472,89.9 470,90 468,89.6 466,90" fill="#14d0f0" />
<polygon points="466,31 468,31.1 470,31 472,31.3 474,31.1 476,31.2 478,30.8 480,31.1 482,31.1 484,30.9 486,30.8 488,31 490,30.9 492,31.3 494,30.9 496,31.1 498,31 500,31.2 502,31 504,30.8 506,31.3 508,30.8 510,31.1 512,30.7 514,30.9 516,30.8 518,30.8 520,31 520,31.5 518,31.9 516,31.7 514,31.7 512,31.9 510,32.2 508,31.9 506,32.1 504,32.3 502,32.7 500,32.8 498,32.5 496,32.6 494,32.4 492,32.4 490,32.8 488,32.8 486,32.6 484,32.8 482,32.6 480,32.7 478,33.2 476,32.6 474,33.1 472,33 470,33.1 468,33.2 466,31" fill="#30e820" />
<polygon points="555,31 557,31.4 559,31.1 561,31.5 563,30.9 565,30.9 567,31.4 569,30.6 571,31 573,31 575,31.4 577,30.6 579,30.8 581,30.9 583,30.9 585,30.8 587,30.5 589,31.2 591,30.7 593,31.2 595,31.1 597,30.7 599,30.5 601,30.7 603,30.9 605,31.4 607,30.5 609,31.4 611,30.8 613,31.3 615,30.6 617,30.7 619,30.7 621,31 623,30.8 625,31.3 627,31.3 629,31.1 631,30.9 633,30.9 635,31.4 637,30.6 639,30.8 641,31.3 643,31.2 645,30.8 647,31.3 649,31.4 651,31.2 653,31.5 655,30.7 656,31 656,38 655,37.5 653,37.3 651,37.1 649,37.7 647,37.2 645,37.3 643,36.7 641,36.7 639,36.8 637,36.5 635,36.5 633,36.3 631,35.9 629,36.1 627,36.6 625,36.4 623,35.8 621,35.9 619,36.4 617,35.9 615,35.9 613,35.4 611,35.6 609,36.1 607,36 605,35.5 603,35.5 601,35.4 599,35.4 597,35.5 595,35.7 593,35.1 591,35.5 589,34.6 587,35.2 585,34.5 583,34.2 581,34.9 579,34.2 577,34.8 575,34 573,34.2 571,34.1 569,34.3 567,33.6 565,33.4 563,32.7 561,32.1 559,31.8 557,31 555,31" fill="#30e820" />
<polygon points="466,90 468,87.8 470,87.8 472,88.3 474,88 476,88.2 478,88.2 480,88.1 482,88.3 484,88.2 486,88.3 488,88.1 490,88.3 492,88.2 494,88.6 496,88.6 498,88.9 500,89.3 502,89.5 504,89.3 505,89.5 505,90 504,89.8 502,89.9 500,89.8 498,89.9 496,90.2 494,90.1 492,89.8 490,90.2 488,90.1 486,89.7 484,90.1 482,90 480,89.9 478,90 476,90.3 474,89.9 472,90.1 470,90.1 468,90.3 466,90" fill="#30e820" />
<polygon points="535,90 537,90.1 539,89.3 541,89.3 543,88.6 545,88.2 547,88.1 549,87.4 551,87.2 553,87.4 555,86.8 557,87.6 559,87.3 561,87 563,86.6 565,86.5 567,87 569,86.4 571,86.8 573,86.8 575,86 577,85.9 579,86.5 581,86.1 583,85.9 585,86.1 587,86.4 589,86.2 591,85.4 593,85.9 595,86.1 597,85.9 599,85.2 601,85 603,85.6 605,85.7 607,84.9 609,85.5 611,84.9 613,85.3 615,84.8 617,85.4 619,85.2 621,84.5 623,84.9 625,84.5 627,85 629,84.9 631,84.8 633,84.3 635,85.1 637,84.3 639,84.8 641,84 643,84.3 645,84 647,84.1 649,83.4 651,83.1 653,83.4 655,82.8 656,83 656,90 655,89.5 653,90.4 651,90.5 649,90.4 647,89.7 645,90.4 643,90.4 641,90.4 639,89.6 637,90.1 635,90.4 633,90.5 631,90.2 629,90.4 627,89.6 625,89.8 623,89.6 621,90.2 619,90.2 617,89.6 615,90.1 613,89.6 611,90.2 609,89.8 607,90 605,89.7 603,89.8 601,90.1 599,90 597,90.4 595,89.5 593,90 591,89.8 589,90 587,89.7 585,89.5 583,90 581,90.3 579,89.9 577,90.1 575,90.1 573,90.1 571,89.5 569,90 567,89.7 565,89.7 563,90.2 561,90.2 559,90.1 557,89.7 555,89.7 553,89.9 551,90.4 549,90.3 547,90.5 545,89.6 543,89.7 541,90.5 539,90 537,90.1 535,90" fill="#30e820" />
<polygon points="466,31 471.1,31.1 476.3,31.2 482,31 482.2,34.6 482.4,37.9 483,42 482.2,46 481.9,50.7 481,55 481.4,60.3 481.9,64.8 482.5,70 481.5,74.5 481.1,77.5 481,82 482.1,84.6 482,87.2 483,90 476.9,90.2 472,89.8 466,90 465.7,69.8 466.2,50.6" fill="#1492f2" />
<polygon points="466,31 469.8,31.4 473.6,30.9 477,31 477.6,34.7 477.4,38.4 477.5,42 476.7,46.6 476.7,50.6 476,55 476.5,59.7 476.6,65.1 477.5,70 477.1,74.1 476.3,77.8 476,82 476.1,84.7 477,87.5 477.5,90 473.7,90.2 470,89.8 466,90 466.2,70.1 466.4,50.8" fill="#14d0f0" />
<polygon points="466,31 468.3,31.2 470.7,31.3 473,31 473.1,34.4 472.4,38.2 472.5,42 472.5,46.6 472.6,50.4 473,55 472.7,60 472.2,65.4 472,70 472.5,74 472.9,78.2 473,82 473,85.1 472.7,87.1 472.5,90 470.1,90.2 468,89.9 466,90 466.3,70.5 465.6,50.8" fill="#30e820" />
<ellipse cx="470.5" cy="58" rx="2.2" ry="3" fill="#c8ee20"/><ellipse cx="470.5" cy="68" rx="2" ry="2.5" fill="#c8ee20"/>
<polygon points="479,34.5 492.1,34 506.4,34.1 520,34.5 531.8,34.7 543,35 555,35 562.2,35.2 567.9,36.9 575,37.5 581.4,38.9 587.7,38.7 595,40 600.2,40.6 605.2,42.6 610,43 613,44.3 615.1,45 617,46 617.3,49.3 618.3,52.4 619,55 617.7,59.6 617.2,63 617,68 616.9,70.1 618.2,72.2 618,74 615.3,74.6 610.6,76 608,77.5 601.8,78 595.5,79.4 590,80 581,81.2 573.6,82 565,82.5 558,84 552.4,84 545,85 536.6,84.9 528,86.3 520,86.3 506.1,86.6 492.3,86.3 479,86.3 479.8,80.4 479.7,76.1 480,70 479.8,63.5 479.1,56.4 478.5,50 479.1,45.1 478.3,39.6" fill="#1458ee" />
<polygon points="658,31 653.9,31.4 649.3,32.4 645,33 641.5,34.8 639.4,36.6 636,38 635.3,41.6 634.9,44.8 634,48 635.1,52.3 635.7,55.8 636,60 635.2,64.1 634.2,67.6 634,72 634.5,75.7 636.3,78.3 637,82 639.6,83.5 643.2,85.5 646,87 649.8,88 653.7,89.1 658,90 657.8,69.9 657.6,50.7" fill="#14d0f0" />
<polygon points="658,31 655.1,31.1 652.3,32.1 650,32.5 648.1,34.1 645.6,36.3 643,38 642.3,41.2 642.2,44.6 642,48 642.5,52.2 643.2,55.8 644,60 643.6,63.8 642.7,67.9 642,72 643.1,75 643.3,78.9 644,82 646.3,83.6 648,85.7 650,87 653,87.8 655.8,89 658,90 657.7,70.3 658.4,50.7" fill="#30e820" />
<polygon points="658,31 656.7,32.1 655.1,33.2 654,34 653.4,37.8 653.3,41.4 652.5,45 652.6,49.7 653.3,55.2 653.5,60 653.4,65.2 652.7,69.9 652.5,75 653.3,78.4 653.7,82.3 654,86 655.5,87.3 657,88.3 658,90 657.7,70.7 658.2,50.4" fill="#a8f018" />
<polygon points="658,33 657.4,34.9 656.3,36.2 655.5,38 655.7,43.6 655.7,49.3 655.5,55 655.4,63.3 655.4,71.6 655.5,80 656.3,82.6 657,85.1 658,88 657.8,69.7 658,51.3" fill="#e8e818" />
<ellipse cx="653.8" cy="52.3" rx="1" ry="2.7" fill="#d8f018"/>
<ellipse cx="649.7" cy="59.8" rx="1.2" ry="2.4" fill="#d8f018"/>
<ellipse cx="649.9" cy="67.5" rx="1.2" ry="2.8" fill="#d8f018"/>
<ellipse cx="649.2" cy="83.9" rx="0.9" ry="2.7" fill="#d8f018"/>
<ellipse cx="652" cy="77.8" rx="0.9" ry="2" fill="#d8f018"/>
<ellipse cx="649.5" cy="74.9" rx="1.2" ry="1.8" fill="#d8f018"/>
<ellipse cx="650.2" cy="40" rx="0.9" ry="2.3" fill="#d8f018"/>
<ellipse cx="651.6" cy="71.2" rx="0.9" ry="2.8" fill="#d8f018"/>
<polygon points="658,31 650,31 652.5,34 655,38 658,42" fill="#ea1616" />
<polygon points="658,90 650,90 652.5,87 655,82 658,77" fill="#ea1616" />
<polygon points="485.5,60 486.6,57.1 486.7,53.3 488,50 490.7,46.9 493.3,45 496,42 501.2,40.1 505.7,39.9 510,38 520,37.2 530,37.3 540,36.5 550.5,35.9 560,35.9 570,36.5 576.9,38.2 585.2,39.1 592,40 596.2,41.8 599.8,44.2 604,47 606.2,50.3 607.4,52.5 609,56 607.6,58.1 605.1,60.8 604,64 599.2,66.6 595.1,68.9 590,72 582.8,73.6 576.1,76.5 570,78 561.5,79.6 553.6,80.1 545,81 535.4,80.9 525.1,81.4 515,82 509.6,81.1 504.5,79.4 500,79 497.1,76.7 493.5,74.7 490,72 488.4,68 487,64.2" fill="#0303e4" />
<rect x="466.2" y="30.5" width="192" height="60" fill="none" stroke="#d2d2c2" stroke-width="4"/>
<line x1="439" y1="30" x2="693" y2="30" stroke="#1a1a1a" stroke-width="1.8" />
</g>
<clipPath id="cc"><rect x="60" y="119.3" width="251.6" height="40.2"/></clipPath>
<g clip-path="url(#cc)">
<rect x="60" y="119.3" width="251.6" height="9.4" fill="#ccd8ee"/>
<ellipse cx="80" cy="124" rx="10" ry="2.5" fill="#d8e2f2"/>
<ellipse cx="160" cy="123" rx="14" ry="2.2" fill="#d4def0"/>
<ellipse cx="205" cy="125" rx="12" ry="2.2" fill="#d4def0"/>
<ellipse cx="285" cy="124" rx="10" ry="3" fill="#dae4f2"/>
<path d="M72,128.6 C76,124 84,121 92,122 C98,120 104,121 108,124 L108,128.6 Z" fill="#a8bfea"/>
<path d="M84,128.6 C88,125 95,124 100,126 C103,124 106,125 108,127 L108,128.6 Z" fill="#8eaee8"/>
<path d="M140,128.6 C142,126 146,125 150,125.5 C148,127 146,128 145,128.6 Z" fill="#a8c0ea"/>
<path d="M266,128.6 C268,124 274,122 280,123 C284,121 290,122 292,125 L290,128.6 Z" fill="#b4c8ec"/>
<path d="M226,128.6 C228,125 232,124 238,125 L238,128.6 Z" fill="#a8c0ea"/>
<path d="M104,128.7 C105,123 110,119.5 120,119.5 C130,119.5 135,123 136,128.7 Z" fill="#58b8e6"/>
<path d="M109,128.7 C110,124 114,121.5 120,121.5 C127,121.5 130,124 131,128.7 Z" fill="#70d478"/>
<path d="M113,128.7 C114,126 117,125 120,125 C124,125 126,126 127,128.7 Z" fill="#c8d850"/>
<path d="M238,128.7 C239,123 244,119.5 252,119.5 C261,119.5 266,123 267,128.7 Z" fill="#58b8e6"/>
<path d="M242,128.7 C243,124 247,121.5 252,121.5 C258,121.5 261,124 262,128.7 Z" fill="#6cd07c"/>
<path d="M246,128.7 C247,126 249,125.2 252,125.2 C256,125.2 258,126 259,128.7 Z" fill="#c0d458"/>
<rect x="60" y="128.6" width="29" height="31" fill="#2272e2"/>
<rect x="88.5" y="128.6" width="24.5" height="31" fill="#1c4cdc"/>
<path d="M104,159.5 A8 10.4 0 0 1 112,149.1" fill="none" stroke="#2a86e0" stroke-width="0.9"/>
<path d="M99,159.5 A13 16.900000000000002 0 0 1 112,142.6" fill="none" stroke="#2a86e0" stroke-width="0.9"/>
<path d="M94,159.5 A18 23.400000000000002 0 0 1 112,136.1" fill="none" stroke="#2a86e0" stroke-width="0.9"/>
<path d="M89,159.5 A23 29.900000000000002 0 0 1 112,129.6" fill="none" stroke="#2a86e0" stroke-width="0.9"/>
<path d="M78,145 C84,140 90,150 96,147" fill="none" stroke="#3a8ae6" stroke-width="1"/>
<path d="M60,136 C66,132 74,134 80,131 L88.5,131 L88.5,140 C80,142 70,140 60,146 Z" fill="#2a84e4"/>
<path d="M62,156 C68,150 76,152 84,148 L88.5,150 L88.5,159.5 L62,159.5 Z" fill="#2a80e2"/>
<rect x="112.7" y="128.6" width="12.8" height="31" fill="#3a92e4"/>
<rect x="121" y="128.6" width="4.5" height="31" fill="#40b8c8"/>
<rect x="125.2" y="128.6" width="1.8" height="31" fill="#e8b424"/>
<line x1="112.7" y1="133" x2="112.7" y2="159.3" stroke="#2a4a90" stroke-width="0.6" />
<rect x="127" y="128.6" width="118" height="31" fill="#4ee232"/>
<path d="M127,128.6 L150,128.6 L146,140 L150,159.5 L127,159.5 Z" fill="#3ee236"/>
<path d="M222,128.6 L245,128.6 L245,159.5 L236,159.5 L232,146 L226,138 Z" fill="#44e234"/>
<path d="M150,159.5 L152,145 L160,136 L175,132 L200,131 L215,134 L222,140 L228,150 L230,159.5 Z" fill="#6ee43a"/>
<path d="M165,159.5 L168,150 L180,142 L200,141 L212,146 L218,159.5 Z" fill="#86e440"/>
<path d="M232,159.5 L236,150 L244.8,146 L244.8,159.5 Z" fill="#7ee43c"/>
<rect x="244.8" y="128.6" width="2.4" height="31" fill="#e8d020"/>
<line x1="245.8" y1="131" x2="245.8" y2="159.3" stroke="#e87a20" stroke-width="0.8" />
<rect x="247.2" y="128.6" width="3" height="31" fill="#40d0a4"/>
<rect x="250.2" y="128.6" width="8.3" height="31" fill="#3a8ae4"/>
<line x1="258.5" y1="133" x2="258.5" y2="159.3" stroke="#2a4a90" stroke-width="0.6" />
<rect x="258.5" y="128.6" width="27" height="31" fill="#1c50dc"/>
<path d="M275,128.6 L300,128.6 L300,159.5 L284,159.5 C280,150 276,140 275,128.6 Z" fill="#bcdaf0"/>
<path d="M284,159.5 C283,152 288,146 292,140 C295,146 296,152 300,159.5 Z" fill="#8cc6ec"/>
<path d="M278,132 C285,134 290,138 293,146" fill="none" stroke="#a8d4f0" stroke-width="1"/>
<rect x="300" y="119.3" width="11.6" height="40.2" fill="#e6e6de"/>
<path d="M113,129.2 L127,129.2 L125.5,131.6 L115,131.6 Z" fill="#e42020"/>
<path d="M107,129 Q112,133 116.5,141.5" fill="none" stroke="#f08a22" stroke-width="1.1"/>
<path d="M111,129.5 Q114,132 118,133" fill="none" stroke="#e8c020" stroke-width="0.9"/>
<ellipse cx="252" cy="129.4" rx="9.5" ry="2.6" fill="none" stroke="#f07020" stroke-width="1.1"/>
<path d="M245,129 L259,129 L257,131 L247,131 Z" fill="#e42020"/>
<path d="M262,129.5 Q259,134 256.5,140" fill="none" stroke="#f09a20" stroke-width="1"/>
</g>
<line x1="60" y1="119.4" x2="311.6" y2="119.4" stroke="#686858" stroke-width="1" />
<line x1="60" y1="128.6" x2="311.6" y2="128.6" stroke="#7a7a70" stroke-width="0.8" />
<line x1="60" y1="159.3" x2="311.6" y2="159.3" stroke="#4c4c40" stroke-width="1" />
<clipPath id="cd"><rect x="439.3" y="120.5" width="253.7" height="39"/></clipPath>
<g clip-path="url(#cd)">
<rect x="439.3" y="120.5" width="253.7" height="39" fill="#1a4ee2"/>
<rect x="439.3" y="130.3" width="253.7" height="29.2" fill="#1c58e2"/>
<polygon points="455,121 472,121 482,126 480,130.3 458,130.3" fill="#2466e6" />
<polygon points="462,124 476,122 484,127 482,130.3 466,130.3" fill="#2c8cec" />
<polygon points="520,121 540,121 548,125 545,130.3 522,130.3" fill="#2466e6" />
<polygon points="570,121 600,122 612,126 610,130.3 575,130.3" fill="#2a6ee8" />
<polygon points="645,121 665,121 670,130.3 650,130.3" fill="#2466e6" />
<polygon points="455,130.3 492,130.3 494,159.5 458,159.5" fill="#2a90ec" />
<polygon points="462,131 491,130.5 493,159.5 468,159.5 463,150" fill="#34b4ea" />
<polygon points="470,135 490,132 492,159.5 476,159.5 472,148" fill="#3cc8e4" />
<polygon points="512,130.3 545,130.3 548,159.5 510,159.5" fill="#2a9aee" />
<polygon points="512,130.3 538,130.3 542,159.5 510,159.5" fill="#38c4e6" />
<polygon points="545,130.3 562,130.3 562,159.5 548,159.5" fill="#226ee6" />
<polygon points="590,130.3 620,130.3 620,159.5 588,159.5" fill="#2678e8" />
<polygon points="600,130.3 620,130.3 620,159.5 598,159.5" fill="#2e9cee" />
<polygon points="608,130.3 620,130.3 620,159.5 606,159.5" fill="#36bee8" />
<polygon points="637,130.3 662,130.3 666,159.5 637,159.5" fill="#2e9cee" />
<polygon points="637,130.3 656,130.3 660,159.5 637,159.5" fill="#38c6e4" />
<ellipse cx="664" cy="159" rx="7" ry="6.5" fill="#38c8d8"/>
<ellipse cx="664" cy="159" rx="5.5" ry="5" fill="#7ee040"/>
<ellipse cx="664" cy="159.5" rx="3.5" ry="3" fill="#e8d020"/>
<ellipse cx="664" cy="160" rx="2" ry="2" fill="#ee8020"/>
<ellipse cx="470" cy="159" rx="8" ry="7" fill="#48dc88"/>
<ellipse cx="470" cy="160" rx="5" ry="4" fill="#6ee046"/>
<ellipse cx="487" cy="158" rx="5" ry="4" fill="#48dc90"/>
<ellipse cx="502" cy="131" rx="14.5" ry="11" fill="#2eaaee"/>
<ellipse cx="502" cy="131.5" rx="13" ry="10" fill="#36d0d8"/>
<ellipse cx="502" cy="132" rx="12" ry="9" fill="#56e23a"/>
<ellipse cx="502" cy="132.3" rx="11.2" ry="8" fill="#e8e420"/>
<ellipse cx="502" cy="132.5" rx="10.7" ry="7.2" fill="#f08a20"/>
<path d="M495,139 L502,145 L509,139 L509,159.5 L495,159.5 Z" fill="#3cc8d8"/>
<path d="M495,143 L502,148.5 L509,143 L509,159.5 L495,159.5 Z" fill="#2c94e8"/>
<path d="M496,148 L502,153 L508,148 L508,159.5 L496,159.5 Z" fill="#2060e0"/>
<path d="M498,153 L502,156 L506,153 L506,159.5 L498,159.5 Z" fill="#3a8ee4"/>
<path d="M494.5,138 L502,144 L509.5,138" fill="none" stroke="#c8e430" stroke-width="1.3"/>
<line x1="495" y1="140" x2="495" y2="159.3" stroke="#3a5a90" stroke-width="0.6" />
<line x1="509" y1="140" x2="509" y2="159.3" stroke="#3a5a90" stroke-width="0.6" />
<path d="M491.7,131 Q492,126.8 502,126.8 Q512,126.8 512.3,131 L512,135 Q508,137.8 502,138.6 Q496,137.8 492,135 Z" fill="#e42222"/>
<rect x="496" y="130" width="12" height="2.5" fill="#d86060" opacity="0.6"/>
<ellipse cx="628.5" cy="131" rx="14.5" ry="11" fill="#2eaaee"/>
<ellipse cx="628.5" cy="131.5" rx="13" ry="10" fill="#36d0d8"/>
<ellipse cx="628.5" cy="132" rx="12" ry="9" fill="#56e23a"/>
<ellipse cx="628.5" cy="132.3" rx="11.2" ry="8" fill="#e8e420"/>
<ellipse cx="628.5" cy="132.5" rx="10.7" ry="7.2" fill="#f08a20"/>
<path d="M621.5,139 L628.5,145 L635.5,139 L635.5,159.5 L621.5,159.5 Z" fill="#3cc8d8"/>
<path d="M621.5,143 L628.5,148.5 L635.5,143 L635.5,159.5 L621.5,159.5 Z" fill="#2c94e8"/>
<path d="M622.5,148 L628.5,153 L634.5,148 L634.5,159.5 L622.5,159.5 Z" fill="#2060e0"/>
<path d="M624.5,153 L628.5,156 L632.5,153 L632.5,159.5 L624.5,159.5 Z" fill="#3a8ee4"/>
<path d="M621.0,138 L628.5,144 L636.0,138" fill="none" stroke="#c8e430" stroke-width="1.3"/>
<line x1="621.5" y1="140" x2="621.5" y2="159.3" stroke="#3a5a90" stroke-width="0.6" />
<line x1="635.5" y1="140" x2="635.5" y2="159.3" stroke="#3a5a90" stroke-width="0.6" />
<path d="M618.2,131 Q618.5,126.8 628.5,126.8 Q638.5,126.8 638.8,131 L638.5,135 Q634.5,137.8 628.5,138.6 Q622.5,137.8 618.5,135 Z" fill="#e42222"/>
<rect x="622.5" y="130" width="12" height="2.5" fill="#d86060" opacity="0.6"/>
<polygon points="439.3,129 448.3,129.5 449.9,137 448.4,146 451.5,150 453,155 454.7,159.5 439.3,159.5" fill="#e4e4dc" />
<polygon points="567,130.8 583.4,130.8 583.4,146.2 573,146.6 562,147 562,140 566,136" fill="#e6e6de" />
<polygon points="671,120.5 693,120.5 693,159.5 681,159.5 678.5,152 674.5,145 672.3,136 671,130.3" fill="#e4e4dc" />
</g>
<line x1="439.3" y1="120.6" x2="693" y2="120.6" stroke="#606058" stroke-width="0.9" />
<line x1="439.3" y1="130.3" x2="693" y2="130.3" stroke="#5a5a5a" stroke-width="0.8" />
<line x1="439.3" y1="159.4" x2="693" y2="159.4" stroke="#4c4c40" stroke-width="1" />
<line x1="322.6" y1="113.2" x2="322.6" y2="94.3" stroke="#4472c4" stroke-width="1.7" />
<polygon points="319.1,96.3 326.1,96.3 322.6,89.3" fill="#4472c4" />
<line x1="321.8" y1="112.4" x2="334" y2="112.4" stroke="#4472c4" stroke-width="1.7" />
<polygon points="332,109 332,115.8 339,112.4" fill="#4472c4" />
<text x="329.3" y="98.3" font-size="11.6" fill="#1a1a1a" text-anchor="start" >X</text>
<text x="340.8" y="115.6" font-size="11.6" fill="#1a1a1a" text-anchor="start" >Z</text>
<line x1="322.6" y1="157.5" x2="322.6" y2="139" stroke="#4472c4" stroke-width="1.7" />
<polygon points="319.1,141 326.1,141 322.6,134" fill="#4472c4" />
<line x1="321.8" y1="156.7" x2="334" y2="156.7" stroke="#4472c4" stroke-width="1.7" />
<polygon points="332,153.3 332,160.1 339,156.7" fill="#4472c4" />
<text x="328.8" y="142.6" font-size="11.6" fill="#1a1a1a" text-anchor="start" >Y</text>
<text x="340.8" y="160.5" font-size="11.6" fill="#1a1a1a" text-anchor="start" >Z</text>
<text x="28" y="112.3" font-size="14" fill="#222" text-anchor="start" textLength="18.3" lengthAdjust="spacingAndGlyphs">(a)</text>
<text x="28.6" y="155.3" font-size="15" fill="#222" text-anchor="start" textLength="18.4" lengthAdjust="spacingAndGlyphs">(c)</text>
<text x="410.3" y="112" font-size="15" fill="#222" text-anchor="start" textLength="19" lengthAdjust="spacingAndGlyphs">(b)</text>
<text x="408.9" y="155.3" font-size="15" fill="#222" text-anchor="start" textLength="19.8" lengthAdjust="spacingAndGlyphs">(d)</text>
<line x1="58.5" y1="355.4" x2="58.5" y2="359.4" stroke="#1a1a1a" stroke-width="0.9" />
<line x1="70.7" y1="355.4" x2="70.7" y2="357.6" stroke="#1a1a1a" stroke-width="0.9" />
<line x1="70.7" y1="166.5" x2="70.7" y2="168" stroke="#1a1a1a" stroke-width="0.9" />
<line x1="82.9" y1="355.4" x2="82.9" y2="357.6" stroke="#1a1a1a" stroke-width="0.9" />
<line x1="82.9" y1="166.5" x2="82.9" y2="168" stroke="#1a1a1a" stroke-width="0.9" />
<line x1="95.2" y1="355.4" x2="95.2" y2="357.6" stroke="#1a1a1a" stroke-width="0.9" />
<line x1="95.2" y1="166.5" x2="95.2" y2="168" stroke="#1a1a1a" stroke-width="0.9" />
<line x1="107.4" y1="355.4" x2="107.4" y2="357.6" stroke="#1a1a1a" stroke-width="0.9" />
<line x1="107.4" y1="166.5" x2="107.4" y2="168" stroke="#1a1a1a" stroke-width="0.9" />
<line x1="119.6" y1="355.4" x2="119.6" y2="359.4" stroke="#1a1a1a" stroke-width="0.9" />
<line x1="119.6" y1="166.5" x2="119.6" y2="169.1" stroke="#1a1a1a" stroke-width="0.9" />
<line x1="131.8" y1="355.4" x2="131.8" y2="357.6" stroke="#1a1a1a" stroke-width="0.9" />
<line x1="131.8" y1="166.5" x2="131.8" y2="168" stroke="#1a1a1a" stroke-width="0.9" />
<line x1="144" y1="355.4" x2="144" y2="357.6" stroke="#1a1a1a" stroke-width="0.9" />
<line x1="144" y1="166.5" x2="144" y2="168" stroke="#1a1a1a" stroke-width="0.9" />
<line x1="156.3" y1="355.4" x2="156.3" y2="357.6" stroke="#1a1a1a" stroke-width="0.9" />
<line x1="156.3" y1="166.5" x2="156.3" y2="168" stroke="#1a1a1a" stroke-width="0.9" />
<line x1="168.5" y1="355.4" x2="168.5" y2="357.6" stroke="#1a1a1a" stroke-width="0.9" />
<line x1="168.5" y1="166.5" x2="168.5" y2="168" stroke="#1a1a1a" stroke-width="0.9" />
<line x1="180.7" y1="355.4" x2="180.7" y2="359.4" stroke="#1a1a1a" stroke-width="0.9" />
<line x1="180.7" y1="166.5" x2="180.7" y2="169.1" stroke="#1a1a1a" stroke-width="0.9" />
<line x1="192.9" y1="355.4" x2="192.9" y2="357.6" stroke="#1a1a1a" stroke-width="0.9" />
<line x1="192.9" y1="166.5" x2="192.9" y2="168" stroke="#1a1a1a" stroke-width="0.9" />
<line x1="205.1" y1="355.4" x2="205.1" y2="357.6" stroke="#1a1a1a" stroke-width="0.9" />
<line x1="205.1" y1="166.5" x2="205.1" y2="168" stroke="#1a1a1a" stroke-width="0.9" />
<line x1="217.4" y1="355.4" x2="217.4" y2="357.6" stroke="#1a1a1a" stroke-width="0.9" />
<line x1="217.4" y1="166.5" x2="217.4" y2="168" stroke="#1a1a1a" stroke-width="0.9" />
<line x1="229.6" y1="355.4" x2="229.6" y2="357.6" stroke="#1a1a1a" stroke-width="0.9" />
<line x1="229.6" y1="166.5" x2="229.6" y2="168" stroke="#1a1a1a" stroke-width="0.9" />
<line x1="241.8" y1="355.4" x2="241.8" y2="359.4" stroke="#1a1a1a" stroke-width="0.9" />
<line x1="241.8" y1="166.5" x2="241.8" y2="169.1" stroke="#1a1a1a" stroke-width="0.9" />
<line x1="254" y1="355.4" x2="254" y2="357.6" stroke="#1a1a1a" stroke-width="0.9" />
<line x1="254" y1="166.5" x2="254" y2="168" stroke="#1a1a1a" stroke-width="0.9" />
<line x1="266.2" y1="355.4" x2="266.2" y2="357.6" stroke="#1a1a1a" stroke-width="0.9" />
<line x1="266.2" y1="166.5" x2="266.2" y2="168" stroke="#1a1a1a" stroke-width="0.9" />
<line x1="278.5" y1="355.4" x2="278.5" y2="357.6" stroke="#1a1a1a" stroke-width="0.9" />
<line x1="278.5" y1="166.5" x2="278.5" y2="168" stroke="#1a1a1a" stroke-width="0.9" />
<line x1="290.7" y1="355.4" x2="290.7" y2="357.6" stroke="#1a1a1a" stroke-width="0.9" />
<line x1="290.7" y1="166.5" x2="290.7" y2="168" stroke="#1a1a1a" stroke-width="0.9" />
<line x1="302.9" y1="355.4" x2="302.9" y2="359.4" stroke="#1a1a1a" stroke-width="0.9" />
<line x1="302.9" y1="166.5" x2="302.9" y2="169.1" stroke="#1a1a1a" stroke-width="0.9" />
<line x1="315.1" y1="355.4" x2="315.1" y2="357.6" stroke="#1a1a1a" stroke-width="0.9" />
<text x="58.5" y="374.7" font-size="16.4" fill="#1a1a1a" text-anchor="middle" >20</text>
<text x="119.6" y="374.7" font-size="16.4" fill="#1a1a1a" text-anchor="middle" >25</text>
<text x="180.7" y="374.7" font-size="16.4" fill="#1a1a1a" text-anchor="middle" >30</text>
<text x="241.8" y="374.7" font-size="16.4" fill="#1a1a1a" text-anchor="middle" >35</text>
<text x="302.9" y="374.7" font-size="16.4" fill="#1a1a1a" text-anchor="middle" >40</text>
<line x1="54.5" y1="175.4" x2="58.5" y2="175.4" stroke="#1a1a1a" stroke-width="0.9" />
<text x="52.2" y="180.1" font-size="16" fill="#1a1a1a" text-anchor="end" >0</text>
<line x1="56.3" y1="188.3" x2="58.5" y2="188.3" stroke="#1a1a1a" stroke-width="0.9" />
<line x1="54.5" y1="201.1" x2="58.5" y2="201.1" stroke="#1a1a1a" stroke-width="0.9" />
<text x="52.2" y="205.8" font-size="16" fill="#1a1a1a" text-anchor="end" >-20</text>
<line x1="56.3" y1="214" x2="58.5" y2="214" stroke="#1a1a1a" stroke-width="0.9" />
<line x1="54.5" y1="226.8" x2="58.5" y2="226.8" stroke="#1a1a1a" stroke-width="0.9" />
<text x="52.2" y="231.5" font-size="16" fill="#1a1a1a" text-anchor="end" >-40</text>
<line x1="56.3" y1="239.7" x2="58.5" y2="239.7" stroke="#1a1a1a" stroke-width="0.9" />
<line x1="54.5" y1="252.5" x2="58.5" y2="252.5" stroke="#1a1a1a" stroke-width="0.9" />
<text x="52.2" y="257.2" font-size="16" fill="#1a1a1a" text-anchor="end" >-60</text>
<line x1="56.3" y1="265.4" x2="58.5" y2="265.4" stroke="#1a1a1a" stroke-width="0.9" />
<line x1="54.5" y1="278.3" x2="58.5" y2="278.3" stroke="#1a1a1a" stroke-width="0.9" />
<text x="52.2" y="283" font-size="16" fill="#1a1a1a" text-anchor="end" >-80</text>
<line x1="56.3" y1="291.1" x2="58.5" y2="291.1" stroke="#1a1a1a" stroke-width="0.9" />
<line x1="54.5" y1="304" x2="58.5" y2="304" stroke="#1a1a1a" stroke-width="0.9" />
<text x="52.2" y="308.7" font-size="16" fill="#1a1a1a" text-anchor="end" >-100</text>
<line x1="56.3" y1="316.8" x2="58.5" y2="316.8" stroke="#1a1a1a" stroke-width="0.9" />
<line x1="54.5" y1="329.7" x2="58.5" y2="329.7" stroke="#1a1a1a" stroke-width="0.9" />
<text x="52.2" y="334.4" font-size="16" fill="#1a1a1a" text-anchor="end" >-120</text>
<line x1="56.3" y1="342.5" x2="58.5" y2="342.5" stroke="#1a1a1a" stroke-width="0.9" />
<line x1="54.5" y1="355.4" x2="58.5" y2="355.4" stroke="#1a1a1a" stroke-width="0.9" />
<text x="52.2" y="360.1" font-size="16" fill="#1a1a1a" text-anchor="end" >-140</text>
<line x1="315.3" y1="355.1" x2="317.5" y2="355.1" stroke="#2222e6" stroke-width="0.9" />
<line x1="315.3" y1="344.6" x2="319.3" y2="344.6" stroke="#2222e6" stroke-width="0.9" />
<text x="321.2" y="350.2" font-size="16" fill="#2222e6" text-anchor="start" >-200</text>
<line x1="315.3" y1="334.1" x2="317.5" y2="334.1" stroke="#2222e6" stroke-width="0.9" />
<line x1="315.3" y1="323.6" x2="319.3" y2="323.6" stroke="#2222e6" stroke-width="0.9" />
<text x="321.2" y="329.2" font-size="16" fill="#2222e6" text-anchor="start" >-150</text>
<line x1="315.3" y1="313.1" x2="317.5" y2="313.1" stroke="#2222e6" stroke-width="0.9" />
<line x1="315.3" y1="302.6" x2="319.3" y2="302.6" stroke="#2222e6" stroke-width="0.9" />
<text x="321.2" y="308.2" font-size="16" fill="#2222e6" text-anchor="start" >-100</text>
<line x1="315.3" y1="292" x2="317.5" y2="292" stroke="#2222e6" stroke-width="0.9" />
<line x1="315.3" y1="281.5" x2="319.3" y2="281.5" stroke="#2222e6" stroke-width="0.9" />
<text x="321.2" y="287.1" font-size="16" fill="#2222e6" text-anchor="start" >-50</text>
<line x1="315.3" y1="271" x2="317.5" y2="271" stroke="#2222e6" stroke-width="0.9" />
<line x1="315.3" y1="260.5" x2="319.3" y2="260.5" stroke="#2222e6" stroke-width="0.9" />
<text x="321.2" y="266.1" font-size="16" fill="#2222e6" text-anchor="start" >0</text>
<line x1="315.3" y1="250" x2="317.5" y2="250" stroke="#2222e6" stroke-width="0.9" />
<line x1="315.3" y1="239.5" x2="319.3" y2="239.5" stroke="#2222e6" stroke-width="0.9" />
<text x="321.2" y="245.1" font-size="16" fill="#2222e6" text-anchor="start" >50</text>
<line x1="315.3" y1="229" x2="317.5" y2="229" stroke="#2222e6" stroke-width="0.9" />
<line x1="315.3" y1="218.4" x2="319.3" y2="218.4" stroke="#2222e6" stroke-width="0.9" />
<text x="321.2" y="224" font-size="16" fill="#2222e6" text-anchor="start" >100</text>
<line x1="315.3" y1="207.9" x2="317.5" y2="207.9" stroke="#2222e6" stroke-width="0.9" />
<line x1="315.3" y1="197.4" x2="319.3" y2="197.4" stroke="#2222e6" stroke-width="0.9" />
<text x="321.2" y="203" font-size="16" fill="#2222e6" text-anchor="start" >150</text>
<line x1="315.3" y1="186.9" x2="317.5" y2="186.9" stroke="#2222e6" stroke-width="0.9" />
<line x1="315.3" y1="176.4" x2="319.3" y2="176.4" stroke="#2222e6" stroke-width="0.9" />
<text x="321.2" y="182" font-size="16" fill="#2222e6" text-anchor="start" >200</text>
<line x1="58.5" y1="166.5" x2="315.3" y2="166.5" stroke="#1a1a1a" stroke-width="1" />
<line x1="58.5" y1="166" x2="58.5" y2="355.9" stroke="#1a1a1a" stroke-width="1.1" />
<line x1="58.5" y1="355.4" x2="315.3" y2="355.4" stroke="#1a1a1a" stroke-width="1.1" />
<line x1="315.3" y1="166" x2="315.3" y2="355.9" stroke="#2222e6" stroke-width="1.2" />
<text transform="translate(14.4,264.5) rotate(-90)" x="0" y="0" font-size="16.5" fill="#1a1a1a" text-anchor="middle" textLength="156.3" lengthAdjust="spacingAndGlyphs">Normalized |Hy| (dB)</text>
<text transform="translate(366.6,252.9) rotate(-90)" x="0" y="0" font-size="16.5" fill="#2222e6" text-anchor="middle" textLength="69.7" lengthAdjust="spacingAndGlyphs">Phase Hy</text>
<text x="83.6" y="395" font-size="16.5" fill="#1a1a1a" text-anchor="start" textLength="186" lengthAdjust="spacingAndGlyphs">Length along z-axis (mm)</text>
<text x="28" y="406.8" font-size="14" fill="#1a1a1a" text-anchor="start" >(e)</text>
<clipPath id="ce"><rect x="58.5" y="166.5" width="256.8" height="188.5"/></clipPath>
<g clip-path="url(#ce)">
<polyline points="58.5,191.5 63,191.5 63.3,186.8" fill="none" stroke="#3636e8" stroke-width="1.35" stroke-linejoin="round" />
<line x1="63.3" y1="191.5" x2="63.3" y2="268" stroke="#2222e6" stroke-width="1.3" stroke-dasharray="1.2 1.6"/>
<polyline points="63.3,275 63.6,268.5 64.8,267 70.8,266.9" fill="none" stroke="#3636e8" stroke-width="1.35" stroke-linejoin="round" />
<line x1="70.8" y1="266.9" x2="70.8" y2="190.7" stroke="#2222e6" stroke-width="1.3" stroke-dasharray="1.2 1.6"/>
<polyline points="70.8,190.7 71.6,191.5 74.6,191.2 75.4,190.8" fill="none" stroke="#3636e8" stroke-width="1.35" stroke-linejoin="round" />
<line x1="75.4" y1="191" x2="75.4" y2="267" stroke="#2222e6" stroke-width="1.3" stroke-dasharray="1.2 1.6"/>
<polyline points="75.4,267 78.5,267" fill="none" stroke="#3636e8" stroke-width="1.35" stroke-linejoin="round" />
<line x1="78.5" y1="267" x2="78.5" y2="191" stroke="#2222e6" stroke-width="1.3" stroke-dasharray="1.2 1.6"/>
<polyline points="78.5,191 79.5,191.6 84.4,191.6" fill="none" stroke="#3636e8" stroke-width="1.35" stroke-linejoin="round" />
<line x1="84.6" y1="191.6" x2="84.6" y2="267" stroke="#2222e6" stroke-width="1.3" stroke-dasharray="1.2 1.6"/>
<polyline points="84.6,266.9 120,267.2 180,267.6 230,268.2 260,269 275,270.2 285,271.6 288.8,272.8" fill="none" stroke="#3636e8" stroke-width="1.35" stroke-linejoin="round" />
<line x1="289.2" y1="272.5" x2="289.2" y2="196.5" stroke="#2222e6" stroke-width="1.3" stroke-dasharray="1.2 1.6"/>
<polyline points="289.2,196.5 292.4,196.5 293.6,195.1 295.5,195 295.6,189.7" fill="none" stroke="#3636e8" stroke-width="1.35" stroke-linejoin="round" />
<line x1="295.6" y1="189.7" x2="295.6" y2="272.8" stroke="#2222e6" stroke-width="1.3" stroke-dasharray="1.2 1.6"/>
<polyline points="295.6,272.8 304.5,272.5 306.2,270.5 307.2,269" fill="none" stroke="#3636e8" stroke-width="1.35" stroke-linejoin="round" />
<line x1="307.3" y1="269" x2="307.3" y2="208" stroke="#2222e6" stroke-width="1.3" stroke-dasharray="1.2 1.6"/>
<polyline points="307.4,208.5 307.6,201 309.2,200.4" fill="none" stroke="#3636e8" stroke-width="1.0" stroke-linejoin="round" />
<line x1="309.3" y1="200.4" x2="309.3" y2="194.5" stroke="#2222e6" stroke-width="1.1" stroke-dasharray="1.2 1.6"/>
<polyline points="309.4,194.2 311,193.6 313.4,193.4 315.3,193.8" fill="none" stroke="#3636e8" stroke-width="1.0" stroke-linejoin="round" />
<polyline points="58.5,278 60.2,278.5 61.5,285 62.6,305 63.5,332 64.4,310 65.6,292 66.8,280 68.1,275.5 69.3,282 70.4,310 71.1,292 72,270 73,260 74.2,257 74.9,262 75.4,308.3 76.1,275 77.2,260.6 78,268 78.5,305.6 79.1,268 79.5,250 81.5,232 83.5,217.6 84.3,222 84.7,244.8 84.9,230 85.2,218 86.7,200 87.9,178.1 89.5,182.5 91.4,185.5 95.4,187.1 101,184.5 109,183.1 117,181.8 119.4,178.6 123.4,181 131.5,180.2 136.3,178.1 144.3,176.7 149.1,177.5 153.9,175.9 165.1,176.2 171.5,176.5 179.5,175.1 187.5,176.5 197.1,176.5 202.4,177.8 204.8,176.7 214.4,176.5 228.8,177.5 238.4,179.7 243.3,181.8 244.5,179.1 250.5,181 252.9,184.2 264.1,188.2 270.5,189.8 282.9,196.5 284.8,194.6 286.5,189.2 288.4,215 289.4,226 290.2,224 290.7,250 291.3,262 292.6,264 294.3,268 295.2,311.7 296.1,280 297.1,270.5 298.5,268.9 300,272.5 301.6,281 303.5,287 305.2,294.3 306.4,305 307.4,333.5 308.2,316 309.1,336.7 309.8,310 310.8,302 312.5,299.1 314,300 315.5,302.2" fill="none" stroke="#1a1a1a" stroke-width="1.15" stroke-linejoin="round" />
<line x1="85.5" y1="277.5" x2="287" y2="277.5" stroke="#e8202a" stroke-width="1.7" stroke-dasharray="7.6 3.1"/>
<polygon points="83.3,277.5 89.6,274.6 88.4,277.5 89.6,280.4" fill="#e8202a" />
<polygon points="290,277.5 283.7,274.6 284.9,277.5 283.7,280.4" fill="#e8202a" />
</g>
<text x="162.6" y="292" font-size="13" fill="#e8202a" text-anchor="start" textLength="32.3" lengthAdjust="spacingAndGlyphs">~0.4λ</text>
<rect x="96.5" y="313.5" width="182" height="34.8" fill="#ffffff" stroke="#9a9a9a" stroke-width="0.9"/>
<line x1="101.7" y1="321.8" x2="134.4" y2="321.8" stroke="#1a1a1a" stroke-width="1.3" />
<line x1="101.7" y1="339.3" x2="134.4" y2="339.3" stroke="#2222e6" stroke-width="1.3" stroke-dasharray="1.2 1.6"/>
<text x="139.6" y="326.6" font-size="14.5" fill="#1a1a1a" text-anchor="start" textLength="134.5" lengthAdjust="spacingAndGlyphs">Normalized |Hy| (dB)</text>
<text x="139.6" y="344.5" font-size="14.5" fill="#1a1a1a" text-anchor="start" textLength="61.7" lengthAdjust="spacingAndGlyphs">Phase Hy</text>
<line x1="440.3" y1="359.4" x2="440.3" y2="363.4" stroke="#1a1a1a" stroke-width="0.9" />
<line x1="452.5" y1="359.4" x2="452.5" y2="361.6" stroke="#1a1a1a" stroke-width="0.9" />
<line x1="452.5" y1="170.2" x2="452.5" y2="171.7" stroke="#1a1a1a" stroke-width="0.9" />
<line x1="464.7" y1="359.4" x2="464.7" y2="361.6" stroke="#1a1a1a" stroke-width="0.9" />
<line x1="464.7" y1="170.2" x2="464.7" y2="171.7" stroke="#1a1a1a" stroke-width="0.9" />
<line x1="477" y1="359.4" x2="477" y2="361.6" stroke="#1a1a1a" stroke-width="0.9" />
<line x1="477" y1="170.2" x2="477" y2="171.7" stroke="#1a1a1a" stroke-width="0.9" />
<line x1="489.2" y1="359.4" x2="489.2" y2="361.6" stroke="#1a1a1a" stroke-width="0.9" />
<line x1="489.2" y1="170.2" x2="489.2" y2="171.7" stroke="#1a1a1a" stroke-width="0.9" />
<line x1="501.4" y1="359.4" x2="501.4" y2="363.4" stroke="#1a1a1a" stroke-width="0.9" />
<line x1="501.4" y1="170.2" x2="501.4" y2="172.8" stroke="#1a1a1a" stroke-width="0.9" />
<line x1="513.6" y1="359.4" x2="513.6" y2="361.6" stroke="#1a1a1a" stroke-width="0.9" />
<line x1="513.6" y1="170.2" x2="513.6" y2="171.7" stroke="#1a1a1a" stroke-width="0.9" />
<line x1="525.8" y1="359.4" x2="525.8" y2="361.6" stroke="#1a1a1a" stroke-width="0.9" />
<line x1="525.8" y1="170.2" x2="525.8" y2="171.7" stroke="#1a1a1a" stroke-width="0.9" />
<line x1="538.1" y1="359.4" x2="538.1" y2="361.6" stroke="#1a1a1a" stroke-width="0.9" />
<line x1="538.1" y1="170.2" x2="538.1" y2="171.7" stroke="#1a1a1a" stroke-width="0.9" />
<line x1="550.3" y1="359.4" x2="550.3" y2="361.6" stroke="#1a1a1a" stroke-width="0.9" />
<line x1="550.3" y1="170.2" x2="550.3" y2="171.7" stroke="#1a1a1a" stroke-width="0.9" />
<line x1="562.5" y1="359.4" x2="562.5" y2="363.4" stroke="#1a1a1a" stroke-width="0.9" />
<line x1="562.5" y1="170.2" x2="562.5" y2="172.8" stroke="#1a1a1a" stroke-width="0.9" />
<line x1="574.7" y1="359.4" x2="574.7" y2="361.6" stroke="#1a1a1a" stroke-width="0.9" />
<line x1="574.7" y1="170.2" x2="574.7" y2="171.7" stroke="#1a1a1a" stroke-width="0.9" />
<line x1="586.9" y1="359.4" x2="586.9" y2="361.6" stroke="#1a1a1a" stroke-width="0.9" />
<line x1="586.9" y1="170.2" x2="586.9" y2="171.7" stroke="#1a1a1a" stroke-width="0.9" />
<line x1="599.2" y1="359.4" x2="599.2" y2="361.6" stroke="#1a1a1a" stroke-width="0.9" />
<line x1="599.2" y1="170.2" x2="599.2" y2="171.7" stroke="#1a1a1a" stroke-width="0.9" />
<line x1="611.4" y1="359.4" x2="611.4" y2="361.6" stroke="#1a1a1a" stroke-width="0.9" />
<line x1="611.4" y1="170.2" x2="611.4" y2="171.7" stroke="#1a1a1a" stroke-width="0.9" />
<line x1="623.6" y1="359.4" x2="623.6" y2="363.4" stroke="#1a1a1a" stroke-width="0.9" />
<line x1="623.6" y1="170.2" x2="623.6" y2="172.8" stroke="#1a1a1a" stroke-width="0.9" />
<line x1="635.8" y1="359.4" x2="635.8" y2="361.6" stroke="#1a1a1a" stroke-width="0.9" />
<line x1="635.8" y1="170.2" x2="635.8" y2="171.7" stroke="#1a1a1a" stroke-width="0.9" />
<line x1="648" y1="359.4" x2="648" y2="361.6" stroke="#1a1a1a" stroke-width="0.9" />
<line x1="648" y1="170.2" x2="648" y2="171.7" stroke="#1a1a1a" stroke-width="0.9" />
<line x1="660.3" y1="359.4" x2="660.3" y2="361.6" stroke="#1a1a1a" stroke-width="0.9" />
<line x1="660.3" y1="170.2" x2="660.3" y2="171.7" stroke="#1a1a1a" stroke-width="0.9" />
<line x1="672.5" y1="359.4" x2="672.5" y2="361.6" stroke="#1a1a1a" stroke-width="0.9" />
<line x1="672.5" y1="170.2" x2="672.5" y2="171.7" stroke="#1a1a1a" stroke-width="0.9" />
<line x1="684.7" y1="359.4" x2="684.7" y2="363.4" stroke="#1a1a1a" stroke-width="0.9" />
<line x1="684.7" y1="170.2" x2="684.7" y2="172.8" stroke="#1a1a1a" stroke-width="0.9" />
<line x1="696.9" y1="359.4" x2="696.9" y2="361.6" stroke="#1a1a1a" stroke-width="0.9" />
<text x="440.3" y="378.4" font-size="16.4" fill="#1a1a1a" text-anchor="middle" >20</text>
<text x="501.4" y="378.4" font-size="16.4" fill="#1a1a1a" text-anchor="middle" >25</text>
<text x="562.5" y="378.4" font-size="16.4" fill="#1a1a1a" text-anchor="middle" >30</text>
<text x="623.6" y="378.4" font-size="16.4" fill="#1a1a1a" text-anchor="middle" >35</text>
<text x="684.7" y="378.4" font-size="16.4" fill="#1a1a1a" text-anchor="middle" >40</text>
<line x1="436.3" y1="179.4" x2="440.3" y2="179.4" stroke="#1a1a1a" stroke-width="0.9" />
<text x="434.5" y="184.1" font-size="16" fill="#1a1a1a" text-anchor="end" >0</text>
<line x1="438.1" y1="192.3" x2="440.3" y2="192.3" stroke="#1a1a1a" stroke-width="0.9" />
<line x1="436.3" y1="205.1" x2="440.3" y2="205.1" stroke="#1a1a1a" stroke-width="0.9" />
<text x="434.5" y="209.8" font-size="16" fill="#1a1a1a" text-anchor="end" >-20</text>
<line x1="438.1" y1="218" x2="440.3" y2="218" stroke="#1a1a1a" stroke-width="0.9" />
<line x1="436.3" y1="230.8" x2="440.3" y2="230.8" stroke="#1a1a1a" stroke-width="0.9" />
<text x="434.5" y="235.5" font-size="16" fill="#1a1a1a" text-anchor="end" >-40</text>
<line x1="438.1" y1="243.7" x2="440.3" y2="243.7" stroke="#1a1a1a" stroke-width="0.9" />
<line x1="436.3" y1="256.6" x2="440.3" y2="256.6" stroke="#1a1a1a" stroke-width="0.9" />
<text x="434.5" y="261.3" font-size="16" fill="#1a1a1a" text-anchor="end" >-60</text>
<line x1="438.1" y1="269.4" x2="440.3" y2="269.4" stroke="#1a1a1a" stroke-width="0.9" />
<line x1="436.3" y1="282.3" x2="440.3" y2="282.3" stroke="#1a1a1a" stroke-width="0.9" />
<text x="434.5" y="287" font-size="16" fill="#1a1a1a" text-anchor="end" >-80</text>
<line x1="438.1" y1="295.1" x2="440.3" y2="295.1" stroke="#1a1a1a" stroke-width="0.9" />
<line x1="436.3" y1="308" x2="440.3" y2="308" stroke="#1a1a1a" stroke-width="0.9" />
<text x="434.5" y="312.7" font-size="16" fill="#1a1a1a" text-anchor="end" >-100</text>
<line x1="438.1" y1="320.9" x2="440.3" y2="320.9" stroke="#1a1a1a" stroke-width="0.9" />
<line x1="436.3" y1="333.7" x2="440.3" y2="333.7" stroke="#1a1a1a" stroke-width="0.9" />
<text x="434.5" y="338.4" font-size="16" fill="#1a1a1a" text-anchor="end" >-120</text>
<line x1="438.1" y1="346.6" x2="440.3" y2="346.6" stroke="#1a1a1a" stroke-width="0.9" />
<line x1="436.3" y1="359.4" x2="440.3" y2="359.4" stroke="#1a1a1a" stroke-width="0.9" />
<text x="434.5" y="364.1" font-size="16" fill="#1a1a1a" text-anchor="end" >-140</text>
<line x1="697.5" y1="359.6" x2="699.7" y2="359.6" stroke="#2222e6" stroke-width="0.9" />
<line x1="697.5" y1="349.1" x2="701.5" y2="349.1" stroke="#2222e6" stroke-width="0.9" />
<text x="703" y="354.7" font-size="16" fill="#2222e6" text-anchor="start" >-200</text>
<line x1="697.5" y1="338.6" x2="699.7" y2="338.6" stroke="#2222e6" stroke-width="0.9" />
<line x1="697.5" y1="328" x2="701.5" y2="328" stroke="#2222e6" stroke-width="0.9" />
<text x="703" y="333.6" font-size="16" fill="#2222e6" text-anchor="start" >-150</text>
<line x1="697.5" y1="317.5" x2="699.7" y2="317.5" stroke="#2222e6" stroke-width="0.9" />
<line x1="697.5" y1="307" x2="701.5" y2="307" stroke="#2222e6" stroke-width="0.9" />
<text x="703" y="312.6" font-size="16" fill="#2222e6" text-anchor="start" >-100</text>
<line x1="697.5" y1="296.5" x2="699.7" y2="296.5" stroke="#2222e6" stroke-width="0.9" />
<line x1="697.5" y1="285.9" x2="701.5" y2="285.9" stroke="#2222e6" stroke-width="0.9" />
<text x="703" y="291.6" font-size="16" fill="#2222e6" text-anchor="start" >-50</text>
<line x1="697.5" y1="275.4" x2="699.7" y2="275.4" stroke="#2222e6" stroke-width="0.9" />
<line x1="697.5" y1="264.9" x2="701.5" y2="264.9" stroke="#2222e6" stroke-width="0.9" />
<text x="703" y="270.5" font-size="16" fill="#2222e6" text-anchor="start" >0</text>
<line x1="697.5" y1="254.4" x2="699.7" y2="254.4" stroke="#2222e6" stroke-width="0.9" />
<line x1="697.5" y1="243.8" x2="701.5" y2="243.8" stroke="#2222e6" stroke-width="0.9" />
<text x="703" y="249.4" font-size="16" fill="#2222e6" text-anchor="start" >50</text>
<line x1="697.5" y1="233.3" x2="699.7" y2="233.3" stroke="#2222e6" stroke-width="0.9" />
<line x1="697.5" y1="222.8" x2="701.5" y2="222.8" stroke="#2222e6" stroke-width="0.9" />
<text x="703" y="228.4" font-size="16" fill="#2222e6" text-anchor="start" >100</text>
<line x1="697.5" y1="212.3" x2="699.7" y2="212.3" stroke="#2222e6" stroke-width="0.9" />
<line x1="697.5" y1="201.7" x2="701.5" y2="201.7" stroke="#2222e6" stroke-width="0.9" />
<text x="703" y="207.3" font-size="16" fill="#2222e6" text-anchor="start" >150</text>
<line x1="697.5" y1="191.2" x2="699.7" y2="191.2" stroke="#2222e6" stroke-width="0.9" />
<line x1="697.5" y1="180.7" x2="701.5" y2="180.7" stroke="#2222e6" stroke-width="0.9" />
<text x="703" y="186.3" font-size="16" fill="#2222e6" text-anchor="start" >200</text>
<line x1="697.5" y1="170.2" x2="699.7" y2="170.2" stroke="#2222e6" stroke-width="0.9" />
<line x1="440.3" y1="170.2" x2="697.5" y2="170.2" stroke="#1a1a1a" stroke-width="1" />
<line x1="440.3" y1="169.7" x2="440.3" y2="359.9" stroke="#1a1a1a" stroke-width="1.1" />
<line x1="440.3" y1="359.4" x2="697.5" y2="359.4" stroke="#1a1a1a" stroke-width="1.1" />
<line x1="697.5" y1="169.7" x2="697.5" y2="359.9" stroke="#2222e6" stroke-width="1.2" />
<text transform="translate(395.2,268) rotate(-90)" x="0" y="0" font-size="16.5" fill="#1a1a1a" text-anchor="middle" textLength="150" lengthAdjust="spacingAndGlyphs">Normalized |Ex| (dB)</text>
<text transform="translate(747.4,258.4) rotate(-90)" x="0" y="0" font-size="16.5" fill="#2222e6" text-anchor="middle" textLength="70.4" lengthAdjust="spacingAndGlyphs">Phase Ex</text>
<text x="475.4" y="393.8" font-size="16.5" fill="#1a1a1a" text-anchor="start" textLength="186" lengthAdjust="spacingAndGlyphs">Length along z-axis (mm)</text>
<text x="411" y="407" font-size="14" fill="#1a1a1a" text-anchor="start" >(f)</text>
<clipPath id="cf"><rect x="440.3" y="170.2" width="257.2" height="189.1"/></clipPath>
<g clip-path="url(#cf)">
<polyline points="440.3,309.5 453.2,309.5" fill="none" stroke="#3636e8" stroke-width="1.35" stroke-linejoin="round" />
<line x1="453.2" y1="309.5" x2="453.2" y2="234" stroke="#2222e6" stroke-width="1.3" stroke-dasharray="1.2 1.6"/>
<polyline points="453.2,234 456.4,234" fill="none" stroke="#3636e8" stroke-width="1.35" stroke-linejoin="round" />
<line x1="456.4" y1="234" x2="456.4" y2="309.5" stroke="#2222e6" stroke-width="1.3" stroke-dasharray="1.2 1.6"/>
<polyline points="456.4,309.5 460.5,309.5" fill="none" stroke="#3636e8" stroke-width="1.35" stroke-linejoin="round" />
<line x1="460.5" y1="309.5" x2="460.5" y2="234" stroke="#2222e6" stroke-width="1.3" stroke-dasharray="1.2 1.6"/>
<polyline points="460.5,234 464.1,234 464.6,237.4 466,236.2 469.6,235.2" fill="none" stroke="#3636e8" stroke-width="1.35" stroke-linejoin="round" />
<polyline points="469.6,235.2 469.6,189.7" fill="none" stroke="#3636e8" stroke-width="1.3" stroke-linejoin="round" />
<line x1="469.6" y1="235.2" x2="469.6" y2="309.7" stroke="#2222e6" stroke-width="1.3" stroke-dasharray="1.2 1.6"/>
<polyline points="469.6,309.7 500,309.8 530,310 540,310.4 545,312.8 549.4,315.9 553.3,321.7 555.5,328 556.3,335" fill="none" stroke="#3636e8" stroke-width="1.35" stroke-linejoin="round" />
<line x1="556.3" y1="335" x2="556.3" y2="189.2" stroke="#2222e6" stroke-width="1.3" stroke-dasharray="1.2 1.6"/>
<polyline points="557,206 557.6,212 558.3,216 560.3,224.7 565.1,228.6 576,231 600,232.4 640,232.9 668.4,233.1 669.4,234.2 670,236.5" fill="none" stroke="#3636e8" stroke-width="1.35" stroke-linejoin="round" />
<line x1="670" y1="236.5" x2="670" y2="306" stroke="#2222e6" stroke-width="1.3" stroke-dasharray="1.2 1.6"/>
<polyline points="670,305 670.6,307.8 672,308.5 677.3,308.5" fill="none" stroke="#3636e8" stroke-width="1.35" stroke-linejoin="round" />
<line x1="677.3" y1="308.5" x2="677.3" y2="233" stroke="#2222e6" stroke-width="1.3" stroke-dasharray="1.2 1.6"/>
<polyline points="677.3,232 677.6,233.1 689.2,233.1 689.4,232" fill="none" stroke="#3636e8" stroke-width="1.35" stroke-linejoin="round" />
<line x1="689.4" y1="233.1" x2="689.4" y2="309.3" stroke="#2222e6" stroke-width="1.3" stroke-dasharray="1.2 1.6"/>
<polyline points="689.4,309.3 697.5,309.3" fill="none" stroke="#3636e8" stroke-width="1.35" stroke-linejoin="round" />
<polyline points="440.3,276 441,274.6 442.9,282 444.7,290 446,298 447.1,303 448.5,297 450.1,289.5 450.7,288.5 451.8,295 452.8,315 453.2,331.8 453.6,310 454.5,290 455,282.5 456.2,282.5 456.8,315.8 457.3,290 458.6,277.6 460,285 460.5,313.4 461,280 461.7,264.3 463,258 464.1,254.6 465,261.8 466,256 466.9,253.3 468,254 469.2,258 469.6,341.8 470.2,262 470.5,220 472,192.6 474.9,185.8 477.3,184.1 479.3,184.9 484.1,183.4 490,183.8 496.3,185 501.1,182.5 505,186 509.7,187 511.8,188.7 516,188.5 518.5,190.2 521,190.4 524,191.4 526.5,190.9 528.5,192.2 531,193.9 535,194.5 538,196.5 541,198.8 544,200.4 546,202.5 549,209 551,214 553,220 555,227.3 555.9,245 556.2,293.6 556.6,250 557.5,226 558.5,218.5 560,211.5 562.5,205.8 566,201.3 571,198.2 576,195.8 580,195 585,193 593.9,188.3 605.5,185.4 617.2,183.5 622.1,184 626,180.2 631.8,179.6 636.6,181 645.4,182.1 652.2,180.5 660.9,180.5 663.9,183.5 666.8,194.2 668.1,213.6 668.1,275.8 668.6,262 669.8,250 670.7,273.6 671.2,250 672.5,239.8 674,247 675.5,256.2 676.5,262 677.3,294 677.8,270 679.1,263.1 680.5,272 681.8,287.3 683,285 684.6,283.7 686.5,290 688.5,305 689.4,327.2 690.2,300 691,285 692.5,280 694.5,286 696.7,296.4 697.8,301" fill="none" stroke="#1a1a1a" stroke-width="1.15" stroke-linejoin="round" />
</g>
<rect x="474.7" y="323.4" width="181.6" height="35.9" fill="#ffffff" stroke="#9a9a9a" stroke-width="0.9"/>
<line x1="480" y1="332" x2="512.1" y2="332" stroke="#1a1a1a" stroke-width="1.3" />
<line x1="480" y1="349.5" x2="512.1" y2="349.5" stroke="#2222e6" stroke-width="1.3" stroke-dasharray="1.2 1.6"/>
<text x="517.4" y="336.7" font-size="14.5" fill="#1a1a1a" text-anchor="start" textLength="134.3" lengthAdjust="spacingAndGlyphs">Normalized |Ex| (dB)</text>
<text x="517.4" y="354.8" font-size="14.5" fill="#1a1a1a" text-anchor="start" textLength="61.4" lengthAdjust="spacingAndGlyphs">Phase Ex</text>
<line x1="440.3" y1="359.3" x2="697.5" y2="359.3" stroke="#1a1a1a" stroke-width="1.1" />
</svg>
</body></html>
